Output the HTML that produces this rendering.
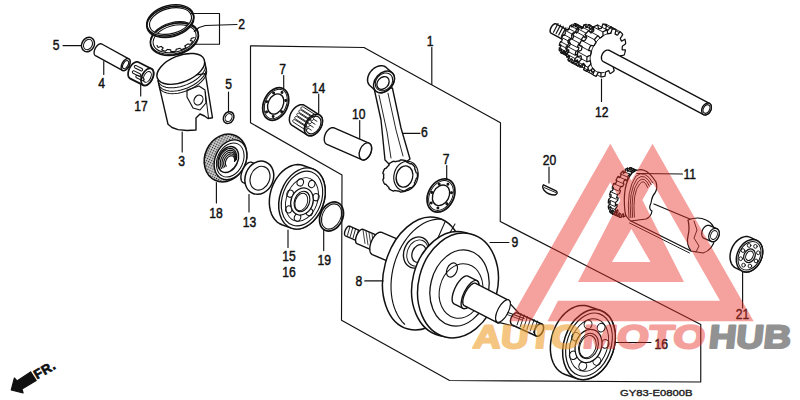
<!DOCTYPE html>
<html><head><meta charset="utf-8"><style>
html,body{margin:0;padding:0;background:#fff;}
svg{display:block;}
text{font-family:"Liberation Sans",sans-serif;}
</style></head><body>
<svg width="800" height="400" viewBox="0 0 800 400">
<rect width="800" height="400" fill="#fff"/>
<g stroke="#111" stroke-width="1.1" fill="none" stroke-linejoin="round" stroke-linecap="round">
<polygon points="250.5,45.75 364,47.5 500.5,122.75 500.25,221.5 700.75,324.5 700.75,382 449.6,380.5 341.5,320.25 342,175 250.5,122.75" fill="none" stroke-width="1.15"/>
<line x1="431.8" y1="47.5" x2="431.8" y2="84.5" stroke-width="1.15"/>
<text transform="translate(426.8 46) scale(0.88 1)" x="0" y="0" font-size="13.8" fill="#111" stroke="#111" stroke-width="0.45">1</text>
<ellipse cx="174.4" cy="39.2" rx="24.5" ry="15.5" fill="#fff" stroke-width="1.72" transform="rotate(-15 174.4 39.2)"/>
<ellipse cx="174.4" cy="38" rx="24.5" ry="15.5" fill="none" stroke-width="1.15" transform="rotate(-15 174.4 38)"/>
<ellipse cx="174.6" cy="38.8" rx="22" ry="13.2" fill="none" stroke-width="1.03" transform="rotate(-15 174.6 38.8)"/>
<polyline points="194.21,37.53 193.83,37.65 193.44,37.76 193.06,37.88 192.67,37.99 192.28,38.1 191.9,38.2 191.51,38.3 191.31,38.39 191.29,38.46 191.27,38.53 191.25,38.6 191.23,38.67 191.21,38.74 191.19,38.81 191.17,38.89 191.14,38.96 191.12,39.03 191.09,39.1 191.07,39.17 191.04,39.24 191.01,39.31 190.99,39.39 190.96,39.46 190.93,39.53 190.9,39.6 190.86,39.67 190.83,39.74 190.8,39.82 190.77,39.89 190.73,39.96 190.7,40.03 190.66,40.1 190.63,40.17 190.59,40.24 190.55,40.32 190.51,40.39 190.47,40.46 190.43,40.53 190.39,40.6 190.35,40.67 190.84,40.79 191.48,40.92 192.12,41.06 192.75,41.21 192.92,41.32 192.86,41.4 192.81,41.49 192.75,41.57 192.69,41.65 192.64,41.74 192.58,41.82 192.52,41.9 192.46,41.99 192.4,42.07 192.33,42.15 192.27,42.24 192.21,42.32 192.14,42.4 192.08,42.49 192.01,42.57 191.94,42.65 191.88,42.73 191.81,42.81 191.74,42.9 191.67,42.98 191.6,43.06 191.53,43.14 191.45,43.22 191.38,43.3 191.31,43.38 191.23,43.47 191.15,43.55 191.08,43.63 191,43.71 190.92,43.79 190.84,43.87 190.77,43.94 190.69,44.02 190.6,44.1 190.52,44.18 190.44,44.26 190.11,44.26 189.73,44.24 189.37,44.22 189,44.19 188.64,44.16 188.28,44.13 187.92,44.09 187.56,44.05 187.4,44.08 187.32,44.15 187.25,44.21 187.17,44.27 187.1,44.34 187.02,44.4 186.94,44.46 186.86,44.53 186.78,44.59 186.7,44.65 186.62,44.71 186.54,44.77 186.46,44.83 186.38,44.9 186.3,44.96 186.21,45.02 186.13,45.08 186.05,45.14 185.96,45.2 185.88,45.26 185.79,45.31 185.71,45.37 185.62,45.43 185.53,45.49 185.45,45.55 185.36,45.61 185.27,45.66 185.18,45.72 185.09,45.78 185,45.83 184.91,45.89 184.82,45.94 184.73,46 185.04,46.35 185.37,46.71 185.68,47.08 185.99,47.46 185.94,47.56 185.82,47.63 185.71,47.69 185.6,47.75 185.49,47.82 185.37,47.88 185.26,47.94 185.14,48 185.03,48.06 184.91,48.12 184.8,48.18 184.68,48.24 184.56,48.3 184.45,48.36 184.33,48.42 184.21,48.48 184.09,48.53 183.97,48.59 183.85,48.65 183.73,48.7 183.61,48.76 183.49,48.81 183.37,48.87 183.25,48.92 183.13,48.98 183.01,49.03 182.88,49.08 182.76,49.14 182.64,49.19 182.51,49.24 182.39,49.29 182.27,49.34 182.14,49.39 182.02,49.44 181.89,49.49 181.76,49.54 181.63,49.58 181.39,49.43 181.15,49.27 180.92,49.12 180.69,48.96 180.46,48.8 180.24,48.64 180.03,48.48 179.82,48.31 179.69,48.32 179.59,48.35 179.48,48.39 179.37,48.43 179.26,48.46 179.15,48.5 179.04,48.53 178.93,48.56 178.82,48.6 178.72,48.63 178.61,48.66 178.5,48.69 178.39,48.72 178.28,48.76 178.17,48.79 178.06,48.82 177.94,48.85 177.83,48.87 177.72,48.9 177.61,48.93 177.5,48.96 177.39,48.99 177.28,49.01 177.17,49.04 177.06,49.07 176.95,49.09 176.83,49.12 176.72,49.14 176.61,49.16 176.5,49.19 176.39,49.21 176.28,49.23 176.17,49.32 176.08,49.8 175.99,50.27 175.88,50.75 175.76,51.21 175.63,51.24 175.49,51.26 175.36,51.28 175.23,51.31 175.09,51.33 174.96,51.35 174.83,51.37 174.69,51.39 174.56,51.41 174.43,51.42 174.3,51.44 174.16,51.46 174.03,51.48 173.9,51.49 173.76,51.51 173.63,51.52 173.5,51.54 173.37,51.55 173.24,51.56 173.1,51.58 172.97,51.59 172.84,51.6 172.71,51.61 172.58,51.62 172.44,51.63 172.31,51.64 172.18,51.65 172.05,51.65 171.92,51.66 171.79,51.67 171.66,51.67 171.53,51.68 171.4,51.68 171.27,51.69 171.14,51.69 171.01,51.69 170.9,51.64 170.87,51.41 170.83,51.17 170.81,50.93 170.79,50.69 170.78,50.45 170.77,50.21 170.76,49.97 170.76,49.74 170.65,49.74 170.54,49.74 170.44,49.74 170.33,49.73 170.23,49.73 170.12,49.72 170.02,49.72 169.91,49.71 169.81,49.7 169.7,49.7 169.6,49.69 169.49,49.68 169.39,49.67 169.29,49.66 169.18,49.65 169.08,49.64 168.98,49.63 168.88,49.62 168.78,49.61 168.67,49.6 168.57,49.59 168.47,49.58 168.37,49.56 168.27,49.55 168.17,49.53 168.07,49.52 167.97,49.5 167.88,49.49 167.78,49.47 167.68,49.45 167.58,49.44 167.49,49.42 167.27,49.55 166.79,49.99 166.3,50.43 165.8,50.86 165.39,51.19 165.28,51.17 165.16,51.14 165.05,51.12 164.94,51.09 164.83,51.07 164.72,51.04 164.61,51.01 164.5,50.98 164.39,50.95 164.29,50.92 164.18,50.89 164.07,50.86 163.97,50.83 163.86,50.8 163.75,50.77 163.65,50.73 163.55,50.7 163.44,50.67 163.34,50.63 163.24,50.6 163.14,50.56 163.03,50.52 162.93,50.49 162.83,50.45 162.74,50.41 162.64,50.37 162.54,50.34 162.44,50.3 162.34,50.26 162.25,50.22 162.15,50.17 162.06,50.13 161.96,50.09 161.87,50.05 161.78,50.01 161.69,49.96 161.71,49.83 161.89,49.59 162.08,49.34 162.27,49.1 162.47,48.85 162.67,48.61 162.87,48.37 163.08,48.13 163.23,47.94 163.15,47.9 163.08,47.86 163.01,47.82 162.94,47.77 162.87,47.73 162.81,47.69 162.74,47.65 162.67,47.6 162.6,47.56 162.54,47.51 162.47,47.47 162.41,47.42 162.34,47.38 162.28,47.33 162.22,47.29 162.15,47.24 162.09,47.19 162.03,47.14 161.97,47.1 161.91,47.05 161.85,47 161.8,46.95 161.74,46.9 161.68,46.85 161.63,46.8 161.57,46.75 161.51,46.7 161.46,46.65 161.41,46.6 161.35,46.55 161.3,46.49 161.25,46.44 160.87,46.55 160.15,46.81 159.42,47.07 158.7,47.32 158.24,47.45 158.19,47.38 158.13,47.32 158.08,47.25 158.02,47.18 157.97,47.12 157.92,47.05 157.87,46.98 157.82,46.92 157.77,46.85 157.72,46.78 157.67,46.71 157.62,46.64 157.58,46.57 157.53,46.5 157.49,46.43 157.45,46.36 157.4,46.29 157.36,46.22 157.32,46.15 157.28,46.08 157.24,46.01 157.2,45.94 157.17,45.86 157.13,45.79 157.1,45.72 157.06,45.64 157.03,45.57 157,45.5" fill="none" stroke-width="1.15"/>
<path d="M194.1,14.8 L194.4,16.8 L194.3,18.9 L193.8,21.0 L192.9,23.1 L191.6,25.2 L189.9,27.2 L187.9,29.1 L185.6,30.9 L183.1,32.5 L180.3,33.9 L177.4,35.1 L174.3,36.1 L171.2,36.8 L168.0,37.2 L164.9,37.4 L161.9,37.3 L159.0,36.9 L156.3,36.2 L153.9,35.3 L151.7,34.2 L149.9,32.8 L148.4,31.2 L147.3,29.5 L146.5,27.6 L146.2,25.6 L146.3,23.5 L146.8,21.4 L147.7,19.3 L149.0,17.2 L150.7,15.2 L152.7,13.3 L155.0,11.5 L157.5,9.9 L160.3,8.5 L163.2,7.3 L166.3,6.3 L169.4,5.6 L172.6,5.2 L175.7,5.0 L178.7,5.1 L181.6,5.5 L184.3,6.2 L186.7,7.1 L188.9,8.2 L190.7,9.6 L192.2,11.2 L193.3,12.9 L194.1,14.8Z M191.0,15.5 L191.2,17.1 L191.1,18.8 L190.6,20.5 L189.8,22.2 L188.7,23.9 L187.2,25.5 L185.5,27.1 L183.5,28.5 L181.3,29.9 L178.9,31.1 L176.3,32.1 L173.7,32.9 L171.0,33.5 L168.3,33.9 L165.6,34.1 L163.0,34.0 L160.6,33.8 L158.3,33.3 L156.2,32.6 L154.4,31.7 L152.8,30.6 L151.5,29.4 L150.6,28.0 L150.0,26.5 L149.8,24.9 L149.9,23.2 L150.4,21.5 L151.2,19.8 L152.3,18.1 L153.8,16.5 L155.5,14.9 L157.5,13.5 L159.7,12.1 L162.1,10.9 L164.7,9.9 L167.3,9.1 L170.0,8.5 L172.7,8.1 L175.4,7.9 L178.0,8.0 L180.4,8.2 L182.7,8.7 L184.8,9.4 L186.6,10.3 L188.2,11.4 L189.5,12.6 L190.4,14.0 L191.0,15.5Z" fill="#fff" fill-rule="evenodd" stroke="none"/>
<ellipse cx="170.3" cy="21.8" rx="24" ry="14.8" fill="none" stroke-width="1.72" transform="rotate(-15 170.3 21.8)"/>
<ellipse cx="170.3" cy="20.3" rx="24" ry="14.8" fill="none" stroke-width="1.38" transform="rotate(-15 170.3 20.3)"/>
<ellipse cx="170.5" cy="21" rx="21.5" ry="12.6" fill="none" stroke-width="1.15" transform="rotate(-15 170.5 21)"/>
<polyline points="191.25,13.5 219.5,13.5 219.5,44.25 195,44.25" fill="none" stroke-width="1.15"/>
<polyline points="194.25,31.5 199,27.5 205.5,25.5 237,24.5" fill="none" stroke-width="1.15"/>
<text transform="translate(238.3 28.5) scale(0.88 1)" x="0" y="0" font-size="13.8" fill="#111" stroke="#111" stroke-width="0.45">2</text>
<ellipse cx="88" cy="44.5" rx="6.2" ry="7.6" fill="none" stroke-width="1.49" transform="rotate(28 88 44.5)"/>
<ellipse cx="88" cy="44.5" rx="4.2" ry="5.5" fill="none" stroke-width="1.03" transform="rotate(28 88 44.5)"/>
<line x1="63" y1="45.6" x2="81.5" y2="45.6" stroke-width="1.15"/>
<text transform="translate(52.8 49.8) scale(0.88 1)" x="0" y="0" font-size="13.8" fill="#111" stroke="#111" stroke-width="0.45">5</text>
<polygon points="95.43,55.59 95.04,55.31 94.71,54.94 94.45,54.48 94.26,53.94 94.15,53.33 94.11,52.66 94.14,51.94 94.26,51.18 94.45,50.4 94.7,49.61 95.03,48.83 95.42,48.06 95.86,47.31 96.35,46.62 96.87,45.97 97.43,45.4 98.01,44.89 98.59,44.47 99.18,44.15 99.76,43.92 100.31,43.79 100.84,43.76 101.33,43.83 101.77,44.01 128.77,58.81 129.16,59.09 129.49,59.46 129.75,59.92 129.94,60.46 130.05,61.07 130.09,61.74 130.06,62.46 129.94,63.22 129.75,64 129.5,64.79 129.17,65.57 128.78,66.34 128.34,67.09 127.85,67.78 127.33,68.43 126.77,69 126.19,69.51 125.61,69.93 125.02,70.25 124.44,70.48 123.89,70.61 123.36,70.64 122.87,70.57 122.43,70.39" fill="#fff" stroke-width="1.38"/>
<ellipse cx="125.6" cy="64.6" rx="3.63" ry="6.6" fill="#fff" stroke-width="1.38" transform="rotate(28.73 125.6 64.6)"/>
<ellipse cx="125.6" cy="64.6" rx="2.4" ry="4.4" fill="none" stroke-width="1.15" transform="rotate(28.7 125.6 64.6)"/>
<line x1="103.75" y1="61.5" x2="103.75" y2="74.5" stroke-width="1.15"/>
<text transform="translate(98.3 87.75) scale(0.88 1)" x="0" y="0" font-size="13.8" fill="#111" stroke="#111" stroke-width="0.45">4</text>
<polygon points="130.26,78.62 129.67,78.23 129.17,77.71 128.75,77.07 128.43,76.31 128.21,75.46 128.1,74.51 128.1,73.5 128.2,72.43 128.41,71.33 128.73,70.21 129.14,69.09 129.63,68 130.22,66.95 130.87,65.95 131.58,65.04 132.34,64.21 133.14,63.49 133.96,62.89 134.78,62.42 135.6,62.08 136.4,61.89 137.17,61.84 137.88,61.94 138.54,62.18 151.44,68.68 152.03,69.07 152.53,69.59 152.95,70.23 153.27,70.99 153.49,71.84 153.6,72.79 153.6,73.8 153.5,74.87 153.29,75.97 152.97,77.09 152.56,78.21 152.07,79.3 151.48,80.35 150.83,81.35 150.12,82.26 149.36,83.09 148.56,83.81 147.74,84.41 146.92,84.88 146.1,85.22 145.3,85.41 144.53,85.46 143.82,85.36 143.16,85.12" fill="#fff" stroke-width="1.72"/>
<ellipse cx="147.3" cy="76.9" rx="5.34" ry="9.2" fill="#fff" stroke-width="1.72" transform="rotate(26.74 147.3 76.9)"/>
<ellipse cx="147.3" cy="76.9" rx="3.4" ry="5.8" fill="none" stroke-width="1.03" transform="rotate(26.7 147.3 76.9)"/>
<polygon points="141.94,68.48 142.34,68.79 142.59,69.23 142.66,69.73 142.52,70.22 142.21,70.62 141.77,70.87 141.26,70.93 140.77,70.8 135.06,67.92 134.66,67.61 134.41,67.17 134.34,66.67 134.48,66.18 134.79,65.78 135.23,65.53 135.74,65.47 136.23,65.6" fill="none" stroke-width="1.03"/>
<polygon points="139.94,73.78 140.34,74.09 140.59,74.53 140.66,75.03 140.52,75.52 140.21,75.92 139.77,76.17 139.26,76.23 138.77,76.1 133.06,73.22 132.66,72.91 132.41,72.47 132.34,71.97 132.48,71.48 132.79,71.08 133.23,70.83 133.74,70.77 134.23,70.9" fill="none" stroke-width="1.03"/>
<polygon points="143.44,78.28 143.84,78.59 144.09,79.03 144.16,79.53 144.02,80.02 143.71,80.42 143.27,80.67 142.76,80.73 142.27,80.6 136.56,77.72 136.16,77.41 135.91,76.97 135.84,76.47 135.98,75.98 136.29,75.58 136.73,75.33 137.24,75.27 137.73,75.4" fill="none" stroke-width="1.03"/>
<line x1="140.7" y1="84.5" x2="140.7" y2="96" stroke-width="1.15"/>
<text transform="translate(134.3 111) scale(0.88 1)" x="0" y="0" font-size="13.8" fill="#111" stroke="#111" stroke-width="0.45">17</text>
<polygon points="157.9,80.4 168,124.25 172,127.5 178,129.6 187,130.5 196,130 196,118 200,114 204.5,116 208,118.5 212.5,117.8 205.3,73.6" fill="#fff" stroke-width="1.38"/>
<ellipse cx="180.8" cy="68.9" rx="25.2" ry="13.2" fill="#fff" stroke-width="1.49" transform="rotate(-22 180.8 68.9)"/>
<polyline points="204.98,62.54 205.54,64.21 205.68,66.04 205.39,67.97 204.67,69.99 203.55,72.05 202.04,74.11 200.17,76.15 197.97,78.11 195.48,79.98 192.75,81.71 189.82,83.27 186.74,84.64 183.58,85.79 180.39,86.7 177.22,87.35 174.14,87.74 171.19,87.86 168.43,87.69 165.91,87.26 163.67,86.55 161.76,85.6 160.21,84.41 159.04,83 158.28,81.41" fill="none" stroke-width="1.03"/>
<polyline points="205.58,65.84 206.14,67.51 206.28,69.34 205.99,71.27 205.27,73.29 204.15,75.35 202.64,77.41 200.77,79.45 198.57,81.41 196.08,83.28 193.35,85.01 190.42,86.57 187.34,87.94 184.18,89.09 180.99,90 177.82,90.65 174.74,91.04 171.79,91.16 169.03,90.99 166.51,90.56 164.27,89.85 162.36,88.9 160.81,87.71 159.64,86.3 158.88,84.71" fill="none" stroke-width="1.03"/>
<polyline points="205.98,68.34 206.54,70.01 206.68,71.84 206.39,73.77 205.67,75.79 204.55,77.85 203.04,79.91 201.17,81.95 198.97,83.91 196.48,85.78 193.75,87.51 190.82,89.07 187.74,90.44 184.58,91.59 181.39,92.5 178.22,93.15 175.14,93.54 172.19,93.66 169.43,93.49 166.91,93.06 164.67,92.35 162.76,91.4 161.21,90.21 160.04,88.8 159.28,87.21" fill="none" stroke-width="1.03"/>
<polyline points="187,90 199,86 205,90 206,103 200,110 193,108 187,97 187,90" fill="none" stroke-width="1.15"/>
<ellipse cx="198.5" cy="100" rx="4.2" ry="5.2" fill="none" stroke-width="1.15" transform="rotate(30 198.5 100)"/>
<polyline points="205.3,92 208.5,118" fill="none" stroke-width="1.03"/>
<line x1="182.2" y1="132" x2="182.2" y2="152" stroke-width="1.15"/>
<text transform="translate(178.3 166) scale(0.88 1)" x="0" y="0" font-size="13.8" fill="#111" stroke="#111" stroke-width="0.45">3</text>
<ellipse cx="228.6" cy="117.6" rx="5" ry="6.2" fill="none" stroke-width="1.49" transform="rotate(30 228.6 117.6)"/>
<ellipse cx="228.6" cy="117.6" rx="3.2" ry="4.2" fill="none" stroke-width="1.03" transform="rotate(30 228.6 117.6)"/>
<line x1="228.5" y1="92" x2="228.5" y2="112" stroke-width="1.15"/>
<text transform="translate(225.3 89) scale(0.88 1)" x="0" y="0" font-size="13.8" fill="#111" stroke="#111" stroke-width="0.45">5</text>
<defs><pattern id="stip" width="2.4" height="2.4" patternUnits="userSpaceOnUse" stroke="none"><rect width="2.4" height="2.4" fill="#b4b4b4"/><rect width="1" height="1" fill="#222"/><rect x="1.2" y="1.2" width="1" height="1" fill="#eee"/></pattern></defs>
<ellipse cx="225.5" cy="158" rx="20.5" ry="24.6" fill="url(#stip)" stroke-width="1.61" transform="rotate(25 225.5 158)"/>
<ellipse cx="230.5" cy="159.8" rx="15.2" ry="20.8" fill="#fff" stroke-width="1.38" transform="rotate(25 230.5 159.8)"/>
<ellipse cx="230.2" cy="160" rx="12.8" ry="17.8" fill="none" stroke-width="1.03" transform="rotate(25 230.2 160)"/>
<ellipse cx="228.2" cy="159.6" rx="9.6" ry="13.6" fill="#fff" stroke-width="1.49" transform="rotate(25 228.2 159.6)"/>
<polyline points="220.21,169.2 219.24,167.42 218.68,165.27 218.57,162.86 218.9,160.3 219.66,157.73 220.82,155.27 222.31,153.05 224.06,151.17 225.99,149.73 228,148.8 229.99,148.42 231.86,148.62 233.52,149.37 234.88,150.66 235.89,152.41 236.48,154.53 236.64,156.93 236.35,159.47" fill="none" stroke-width="1.15"/>
<polyline points="221.72,168.47 220.87,166.91 220.37,165.02 220.27,162.9 220.56,160.66 221.23,158.41 222.24,156.25 223.55,154.3 225.09,152.66 226.78,151.39 228.55,150.57 230.29,150.24 231.93,150.41 233.39,151.08 234.59,152.21 235.47,153.74 236,155.61 236.13,157.71 235.88,159.94" fill="none" stroke-width="1.15"/>
<polyline points="223.22,167.74 222.49,166.39 222.07,164.77 221.98,162.95 222.22,161.02 222.8,159.08 223.67,157.23 224.8,155.55 226.12,154.14 227.58,153.05 229.09,152.35 230.6,152.07 232.01,152.21 233.26,152.79 234.3,153.76 235.06,155.08 235.51,156.68 235.63,158.49 235.41,160.41" fill="none" stroke-width="1.15"/>
<polyline points="224.73,167.01 224.11,165.88 223.76,164.52 223.68,162.99 223.89,161.38 224.37,159.76 225.1,158.21 226.04,156.8 227.15,155.62 228.37,154.71 229.64,154.12 230.9,153.89 232.09,154.01 233.14,154.5 234,155.31 234.64,156.41 235.02,157.76 235.12,159.27 234.94,160.88" fill="none" stroke-width="1.15"/>
<polyline points="226.24,166.27 225.74,165.36 225.45,164.27 225.38,163.04 225.55,161.74 225.94,160.43 226.52,159.18 227.28,158.06 228.18,157.1 229.16,156.37 230.19,155.9 231.2,155.71 232.16,155.81 233.01,156.2 233.71,156.86 234.23,157.75 234.54,158.83 234.62,160.05 234.47,161.35" fill="none" stroke-width="1.15"/>
<line x1="216.4" y1="182.5" x2="216.4" y2="203" stroke-width="1.15"/>
<text transform="translate(209.3 217.7) scale(0.88 1)" x="0" y="0" font-size="13.8" fill="#111" stroke="#111" stroke-width="0.45">18</text>
<polygon points="243.23,182.64 242.61,182.27 242.06,181.74 241.62,181.05 241.27,180.21 241.03,179.24 240.9,178.16 240.88,176.98 240.98,175.72 241.18,174.41 241.5,173.06 241.92,171.71 242.43,170.37 243.03,169.06 243.71,167.81 244.45,166.65 245.24,165.58 246.08,164.64 246.93,163.82 247.8,163.16 248.66,162.65 249.5,162.32 250.31,162.16 251.07,162.17 251.77,162.36 261.27,166.36 261.89,166.73 262.44,167.26 262.88,167.95 263.23,168.79 263.47,169.76 263.6,170.84 263.62,172.02 263.52,173.28 263.32,174.59 263,175.94 262.58,177.29 262.07,178.63 261.47,179.94 260.79,181.19 260.05,182.35 259.26,183.42 258.42,184.36 257.57,185.18 256.7,185.84 255.84,186.35 255,186.68 254.19,186.84 253.43,186.83 252.73,186.64" fill="#fff" stroke-width="1.38"/>
<ellipse cx="257" cy="176.5" rx="5.5" ry="11" fill="#fff" stroke-width="1.38" transform="rotate(22.83 257 176.5)"/>
<ellipse cx="259.3" cy="177.7" rx="14" ry="17" fill="#fff" stroke-width="1.49" transform="rotate(22 259.3 177.7)"/>
<ellipse cx="260" cy="178.2" rx="9.6" ry="12.2" fill="none" stroke-width="1.15" transform="rotate(22 260 178.2)"/>
<line x1="249" y1="194.5" x2="249" y2="212" stroke-width="1.15"/>
<text transform="translate(242.8 227) scale(0.88 1)" x="0" y="0" font-size="13.8" fill="#111" stroke="#111" stroke-width="0.45">13</text>
<polygon points="281.89,224.72 279.28,223.49 276.9,221.78 274.78,219.6 272.98,217.01 271.51,214.05 270.4,210.75 269.66,207.2 269.33,203.43 269.39,199.52 269.84,195.54 270.69,191.55 271.91,187.62 273.49,183.81 275.39,180.21 277.59,176.85 280.04,173.81 282.71,171.13 285.55,168.86 288.51,167.04 291.53,165.71 294.58,164.87 297.59,164.55 300.52,164.75 303.31,165.48 312.71,168.88 315.32,170.11 317.7,171.82 319.82,174 321.62,176.59 323.09,179.55 324.2,182.85 324.94,186.4 325.27,190.17 325.21,194.08 324.76,198.06 323.91,202.05 322.69,205.98 321.11,209.79 319.21,213.39 317.01,216.75 314.56,219.79 311.89,222.47 309.05,224.74 306.09,226.56 303.07,227.89 300.02,228.73 297.01,229.05 294.08,228.85 291.29,228.12" fill="#fff" stroke-width="1.49"/>
<ellipse cx="302" cy="198.5" rx="22" ry="31.5" fill="#fff" stroke-width="1.49" transform="rotate(19.89 302 198.5)"/>
<ellipse cx="302" cy="198.5" rx="19.5" ry="28.2" fill="none" stroke-width="1.15" transform="rotate(20 302 198.5)"/>
<ellipse cx="302" cy="199.5" rx="15.5" ry="22.5" fill="none" stroke-width="0.92" transform="rotate(20 302 199.5)"/>
<ellipse cx="309.52" cy="212.19" rx="3.2" ry="3.6" fill="none" stroke-width="1.03" transform="rotate(20 309.52 212.19)"/>
<ellipse cx="297.53" cy="217.55" rx="3.2" ry="3.6" fill="none" stroke-width="1.03" transform="rotate(20 297.53 217.55)"/>
<ellipse cx="288.9" cy="209.33" rx="3.2" ry="3.6" fill="none" stroke-width="1.03" transform="rotate(20 288.9 209.33)"/>
<ellipse cx="290.12" cy="193.72" rx="3.2" ry="3.6" fill="none" stroke-width="1.03" transform="rotate(20 290.12 193.72)"/>
<ellipse cx="300.28" cy="182.46" rx="3.2" ry="3.6" fill="none" stroke-width="1.03" transform="rotate(20 300.28 182.46)"/>
<ellipse cx="311.74" cy="184.01" rx="3.2" ry="3.6" fill="none" stroke-width="1.03" transform="rotate(20 311.74 184.01)"/>
<ellipse cx="315.87" cy="197.22" rx="3.2" ry="3.6" fill="none" stroke-width="1.03" transform="rotate(20 315.87 197.22)"/>
<ellipse cx="302" cy="201.5" rx="11" ry="13.8" fill="#fff" stroke-width="1.26" transform="rotate(20 302 201.5)"/>
<ellipse cx="302" cy="201.5" rx="7.5" ry="10.5" fill="none" stroke-width="1.15" transform="rotate(20 302 201.5)"/>
<ellipse cx="301.3" cy="202" rx="6" ry="9" fill="none" stroke-width="0.92" transform="rotate(20 301.3 202)"/>
<line x1="288" y1="230" x2="288" y2="247.5" stroke-width="1.15"/>
<text transform="translate(282.2 260.5) scale(0.88 1)" x="0" y="0" font-size="13.8" fill="#111" stroke="#111" stroke-width="0.45">15</text>
<text transform="translate(282.2 276.5) scale(0.88 1)" x="0" y="0" font-size="13.8" fill="#111" stroke="#111" stroke-width="0.45">16</text>
<ellipse cx="331.5" cy="216.5" rx="11.2" ry="15.2" fill="none" stroke-width="1.72" transform="rotate(25 331.5 216.5)"/>
<ellipse cx="331.5" cy="216.5" rx="9.2" ry="13.2" fill="none" stroke-width="1.03" transform="rotate(25 331.5 216.5)"/>
<line x1="323.7" y1="230" x2="323.7" y2="250.6" stroke-width="1.15"/>
<text transform="translate(317.6 265) scale(0.88 1)" x="0" y="0" font-size="13.8" fill="#111" stroke="#111" stroke-width="0.45">19</text>
<ellipse cx="275.7" cy="104" rx="12" ry="17" fill="#fff" stroke-width="1.72" transform="rotate(25 275.7 104)"/>
<ellipse cx="275.7" cy="104" rx="10.5" ry="15.5" fill="none" stroke-width="0.92" transform="rotate(25 275.7 104)"/>
<ellipse cx="275.7" cy="104" rx="7.5" ry="10.6" fill="none" stroke-width="1.38" transform="rotate(25 275.7 104)"/>
<ellipse cx="281.63" cy="111.75" rx="0.9" ry="0.9" fill="#111" stroke-width="1.15"/>
<ellipse cx="273.14" cy="116.58" rx="0.9" ry="0.9" fill="#111" stroke-width="1.15"/>
<ellipse cx="266.55" cy="112.09" rx="0.9" ry="0.9" fill="#111" stroke-width="1.15"/>
<ellipse cx="266.74" cy="101.6" rx="0.9" ry="0.9" fill="#111" stroke-width="1.15"/>
<ellipse cx="273.58" cy="92.89" rx="0.9" ry="0.9" fill="#111" stroke-width="1.15"/>
<ellipse cx="281.98" cy="92.42" rx="0.9" ry="0.9" fill="#111" stroke-width="1.15"/>
<ellipse cx="285.73" cy="100.53" rx="0.9" ry="0.9" fill="#111" stroke-width="1.15"/>
<line x1="283.7" y1="75.5" x2="283.7" y2="88.8" stroke-width="1.15"/>
<text transform="translate(279.3 74) scale(0.88 1)" x="0" y="0" font-size="13.8" fill="#111" stroke="#111" stroke-width="0.45">7</text>
<polygon points="292.16,125.45 291.35,124.82 290.67,124.03 290.13,123.09 289.72,122.02 289.47,120.84 289.37,119.57 289.43,118.24 289.64,116.85 290.01,115.44 290.52,114.03 291.16,112.65 291.93,111.31 292.82,110.05 293.8,108.88 294.86,107.82 295.98,106.9 297.15,106.12 298.34,105.5 299.54,105.06 300.71,104.79 301.85,104.71 302.93,104.81 303.93,105.09 304.84,105.55 319.74,115.05 320.55,115.68 321.23,116.47 321.77,117.41 322.18,118.48 322.43,119.66 322.53,120.93 322.47,122.26 322.26,123.65 321.89,125.06 321.38,126.47 320.74,127.85 319.97,129.19 319.08,130.45 318.1,131.62 317.04,132.68 315.92,133.6 314.75,134.38 313.56,135 312.36,135.44 311.19,135.71 310.05,135.79 308.97,135.69 307.97,135.41 307.06,134.95" fill="#fff" stroke-width="1.49"/>
<ellipse cx="313.4" cy="125" rx="7.79" ry="11.8" fill="#fff" stroke-width="1.49" transform="rotate(32.52 313.4 125)"/>
<polygon points="314.99,114.63 315.38,115.01 315.6,115.51 315.62,116.05 315.42,116.56 315.04,116.96 314.54,117.18 313.99,117.19 313.48,116.99 301.51,109.36 301.12,108.98 300.9,108.48 300.89,107.93 301.08,107.42 301.46,107.03 301.96,106.81 302.51,106.8 303.02,106.99" fill="none" stroke-width="0.92"/>
<polygon points="312.95,117.83 313.34,118.21 313.56,118.71 313.57,119.26 313.37,119.77 313,120.16 312.5,120.38 311.95,120.39 311.44,120.19 299.47,112.56 299.07,112.18 298.85,111.68 298.84,111.14 299.04,110.63 299.42,110.23 299.92,110.01 300.46,110 300.97,110.2" fill="none" stroke-width="0.92"/>
<polygon points="310.9,121.04 311.3,121.41 311.52,121.91 311.53,122.46 311.33,122.97 310.95,123.36 310.45,123.58 309.91,123.6 309.4,123.4 297.43,115.76 297.03,115.39 296.81,114.89 296.8,114.34 297,113.83 297.38,113.44 297.88,113.22 298.42,113.2 298.93,113.4" fill="none" stroke-width="0.92"/>
<polygon points="308.86,124.24 309.26,124.62 309.48,125.12 309.49,125.66 309.29,126.17 308.91,126.57 308.41,126.79 307.86,126.8 307.36,126.6 295.38,118.97 294.99,118.59 294.77,118.09 294.76,117.54 294.95,117.03 295.33,116.64 295.83,116.42 296.38,116.41 296.89,116.61" fill="none" stroke-width="0.92"/>
<polygon points="306.82,127.44 307.21,127.82 307.43,128.32 307.44,128.87 307.25,129.38 306.87,129.77 306.37,129.99 305.82,130 305.31,129.81 293.34,122.17 292.94,121.79 292.73,121.29 292.71,120.75 292.91,120.24 293.29,119.84 293.79,119.62 294.34,119.61 294.84,119.81" fill="none" stroke-width="0.92"/>
<ellipse cx="313.4" cy="125" rx="6.6" ry="9.6" fill="none" stroke-width="1.15" transform="rotate(32.52 313.4 125)"/>
<line x1="313.56" y1="119.17" x2="316.93" y2="121.32" stroke-width="0.92"/>
<line x1="311.68" y1="122.12" x2="315.05" y2="124.27" stroke-width="0.92"/>
<line x1="309.8" y1="125.07" x2="313.17" y2="127.22" stroke-width="0.92"/>
<line x1="307.91" y1="128.02" x2="311.29" y2="130.18" stroke-width="0.92"/>
<line x1="318.7" y1="94" x2="318.7" y2="113.5" stroke-width="1.15"/>
<text transform="translate(311.8 92.5) scale(0.88 1)" x="0" y="0" font-size="13.8" fill="#111" stroke="#111" stroke-width="0.45">14</text>
<polygon points="326.91,144.45 326.27,144.09 325.7,143.59 325.22,142.97 324.83,142.23 324.53,141.39 324.34,140.46 324.25,139.46 324.27,138.4 324.4,137.3 324.63,136.18 324.96,135.07 325.38,133.97 325.9,132.91 326.49,131.91 327.15,130.98 327.87,130.14 328.63,129.41 329.42,128.79 330.24,128.3 331.05,127.94 331.86,127.72 332.65,127.65 333.4,127.73 334.09,127.95 368.99,143.15 369.63,143.51 370.2,144.01 370.68,144.63 371.07,145.37 371.37,146.21 371.56,147.14 371.65,148.14 371.63,149.2 371.5,150.3 371.27,151.42 370.94,152.53 370.52,153.63 370,154.69 369.41,155.69 368.75,156.62 368.03,157.46 367.27,158.19 366.48,158.81 365.66,159.3 364.85,159.66 364.04,159.88 363.25,159.95 362.5,159.87 361.81,159.65" fill="#fff" stroke-width="1.38"/>
<ellipse cx="365.4" cy="151.4" rx="5.58" ry="9" fill="#fff" stroke-width="1.38" transform="rotate(23.53 365.4 151.4)"/>
<line x1="359.7" y1="120.6" x2="359.7" y2="138.5" stroke-width="1.15"/>
<text transform="translate(352 118.5) scale(0.88 1)" x="0" y="0" font-size="13.8" fill="#111" stroke="#111" stroke-width="0.45">10</text>
<polygon points="374,88 381,120 385,160 395,170 410,159 401,128 392.4,88" fill="#fff" stroke-width="1.38"/>
<polyline points="379,95 387,132 391,158" fill="none" stroke-width="0.92"/>
<polyline points="388,93.3 396,130 403,156" fill="none" stroke-width="0.92"/>
<polygon points="369.84,85.57 369.06,84.72 368.43,83.74 367.96,82.63 367.67,81.42 367.55,80.12 367.61,78.76 367.85,77.36 368.26,75.95 368.84,74.54 369.58,73.17 370.46,71.86 371.47,70.62 372.59,69.49 373.81,68.48 375.09,67.6 376.43,66.88 377.79,66.32 379.15,65.93 380.5,65.73 381.8,65.71 383.04,65.87 384.19,66.22 385.24,66.74 386.16,67.43 392.16,72.83 392.94,73.68 393.57,74.66 394.04,75.77 394.33,76.98 394.45,78.28 394.39,79.64 394.15,81.04 393.74,82.45 393.16,83.86 392.42,85.23 391.54,86.54 390.53,87.78 389.41,88.91 388.19,89.92 386.91,90.8 385.57,91.52 384.21,92.08 382.85,92.47 381.5,92.67 380.2,92.69 378.96,92.53 377.81,92.18 376.76,91.66 375.84,90.97" fill="#fff" stroke-width="1.49"/>
<ellipse cx="384" cy="81.9" rx="8.78" ry="12.2" fill="#fff" stroke-width="1.49" transform="rotate(41.99 384 81.9)"/>
<ellipse cx="384" cy="81.9" rx="7.8" ry="9.8" fill="none" stroke-width="1.03" transform="rotate(42 384 81.9)"/>
<ellipse cx="383" cy="83" rx="5.4" ry="7" fill="none" stroke-width="1.38" transform="rotate(42 383 83)"/>
<polyline points="417.23,172.96 417.28,173.21 417.31,173.46 417.35,173.71 417.37,173.96 417.4,174.21 417.42,174.46 417.43,174.71 417.45,174.96 417.45,175.21 417.46,175.46 417.46,175.72 417.45,175.97 417.44,176.22 417.43,176.47 417.41,176.72 417.38,176.98 417.36,177.23 417.32,177.48 417.29,177.73 417.25,177.98 416.97,178.2 416.69,178.41 416.41,178.62 416.13,178.81 415.97,179.03 415.9,179.26 415.84,179.49 415.77,179.72 415.7,179.95 415.62,180.18 415.54,180.41 415.45,180.63 415.37,180.86 415.27,181.08 415.18,181.3 415.08,181.52 414.97,181.74 414.87,181.96 414.76,182.18 414.64,182.4 414.52,182.61 414.4,182.82 414.59,183.19 414.87,183.61 414.91,183.92 414.76,184.14 414.62,184.36 414.47,184.57 414.31,184.78 414.15,184.99 413.99,185.2 413.82,185.41 413.65,185.61 413.48,185.81 413.31,186.01 413.13,186.2 412.94,186.4 412.76,186.59 412.57,186.78 412.38,186.96 412.18,187.14 411.98,187.32 411.78,187.5 411.58,187.68 411.29,187.76 410.93,187.76 410.57,187.76 410.22,187.75 409.89,187.75 409.68,187.9 409.47,188.04 409.26,188.19 409.05,188.32 408.83,188.46 408.61,188.59 408.39,188.72 408.17,188.85 407.94,188.97 407.72,189.09 407.49,189.2 407.26,189.32 407.03,189.43 406.79,189.53 406.56,189.64 406.32,189.74 406.08,189.83 405.9,190.06 405.82,190.55 405.7,191 405.44,191.09 405.18,191.17 404.92,191.25 404.65,191.33 404.39,191.4 404.12,191.47 403.86,191.54 403.59,191.6 403.32,191.65 403.05,191.71 402.78,191.76 402.51,191.8 402.24,191.84 401.96,191.88 401.69,191.92 401.42,191.95 401.14,191.97 400.87,192 400.6,192.01 400.32,192 400.05,191.8 399.78,191.59 399.52,191.37 399.27,191.16 399.01,191.08 398.76,191.07 398.5,191.06 398.24,191.04 397.99,191.02 397.73,191 397.48,190.97 397.22,190.94 396.97,190.9 396.72,190.87 396.46,190.82 396.21,190.78 395.96,190.73 395.71,190.67 395.47,190.62 395.22,190.56 394.97,190.49 394.73,190.43 394.34,190.72 393.93,191.06 393.62,191.11 393.36,191.02 393.11,190.93 392.86,190.84 392.61,190.74 392.36,190.64 392.12,190.53 391.87,190.43 391.63,190.31 391.39,190.2 391.16,190.08 390.92,189.96 390.69,189.83 390.46,189.7 390.23,189.57 390,189.43 389.78,189.29 389.56,189.15 389.34,189 389.12,188.85 389.01,188.59 388.95,188.26 388.91,187.94 388.87,187.62 388.8,187.34 388.61,187.18 388.43,187.02 388.25,186.85 388.07,186.69 387.89,186.52 387.72,186.35 387.55,186.17 387.39,186 387.22,185.82 387.06,185.64 386.9,185.46 386.75,185.27 386.6,185.08 386.45,184.89 386.31,184.7 386.17,184.5 386.03,184.31 385.72,184.21 385.18,184.24 384.73,184.2 384.59,183.98 384.47,183.76 384.34,183.54 384.23,183.31 384.11,183.09 384,182.86 383.89,182.63 383.79,182.4 383.69,182.17 383.59,181.94 383.5,181.7 383.41,181.47 383.33,181.23 383.25,180.99 383.17,180.75 383.1,180.51 383.04,180.27 382.97,180.02 382.92,179.78 382.91,179.52 383.1,179.23 383.28,178.95 383.48,178.67 383.67,178.4 383.69,178.16 383.67,177.92 383.64,177.69 383.63,177.45 383.61,177.21 383.6,176.98 383.59,176.74 383.59,176.5 383.59,176.27 383.6,176.03 383.61,175.79 383.62,175.56 383.64,175.32 383.66,175.08 383.68,174.85 383.71,174.61 383.75,174.38 383.79,174.14 383.36,173.84 382.95,173.54 382.9,173.27 382.95,173.02 383.01,172.78 383.08,172.53 383.15,172.29 383.22,172.04 383.3,171.8 383.38,171.55 383.47,171.31 383.56,171.07 383.65,170.83 383.75,170.59 383.85,170.36 383.96,170.12 384.07,169.89 384.18,169.66 384.3,169.43 384.42,169.2 384.55,168.97 384.68,168.74 384.97,168.6 385.31,168.48 385.65,168.37 385.99,168.27 386.26,168.14 386.4,167.94 386.55,167.74 386.7,167.55 386.85,167.35 387.01,167.16 387.17,166.97 387.33,166.78 387.49,166.59 387.66,166.41 387.83,166.23 388.01,166.05 388.18,165.87 388.36,165.7 388.55,165.52 388.73,165.36 388.92,165.19 389.11,165.02 389.14,164.69 389.04,164.2 389.05,163.82 389.26,163.66 389.48,163.5 389.7,163.34 389.92,163.19 390.15,163.04 390.38,162.89 390.61,162.75 390.84,162.61 391.07,162.47 391.31,162.33 391.55,162.2 391.79,162.08 392.03,161.95 392.28,161.83 392.52,161.72 392.77,161.6 393.02,161.49 393.28,161.39 393.53,161.29 393.81,161.25 394.15,161.36 394.48,161.47 394.8,161.59 395.12,161.72 395.38,161.66 395.63,161.59 395.88,161.52 396.13,161.46 396.38,161.4 396.63,161.34 396.88,161.29 397.13,161.24 397.39,161.19 397.64,161.15 397.9,161.11 398.15,161.07 398.41,161.04 398.67,161.01 398.92,160.99 399.18,160.96 399.44,160.95 399.7,160.89 399.95,160.44 400.23,160 400.5,159.95 400.77,159.95 401.05,159.96 401.32,159.97 401.59,159.98 401.87,160 402.14,160.02 402.41,160.05 402.68,160.08 402.95,160.11 403.22,160.15 403.49,160.19 403.76,160.23 404.03,160.28 404.29,160.33 404.56,160.39 404.82,160.45 405.09,160.51 405.35,160.58 405.61,160.65 405.8,160.91 405.97,161.19 406.13,161.48 406.29,161.77 406.48,161.96 406.71,162.05 406.95,162.14 407.18,162.24 407.41,162.34 407.64,162.44 407.87,162.55 408.09,162.65 408.31,162.77 408.54,162.88 408.75,163 408.97,163.12 409.19,163.25 409.4,163.38 409.61,163.51 409.82,163.64 410.02,163.78 410.22,163.92 410.62,163.83 411.13,163.64 411.51,163.61 411.71,163.78 411.91,163.94 412.11,164.11 412.31,164.28 412.5,164.45 412.69,164.63 412.88,164.81 413.06,164.99 413.24,165.18 413.42,165.36 413.59,165.55 413.76,165.75 413.93,165.94 414.09,166.14 414.25,166.34 414.41,166.54 414.56,166.75 414.71,166.95 414.86,167.16 414.91,167.43 414.84,167.75 414.77,168.07 414.69,168.39 414.6,168.71 414.72,168.91 414.83,169.12 414.94,169.34 415.04,169.55 415.14,169.76 415.24,169.98 415.33,170.2 415.42,170.42 415.51,170.64 415.59,170.86 415.67,171.09 415.75,171.31 415.82,171.54 415.88,171.76 415.95,171.99 416,172.22 416.06,172.45 416.21,172.66 416.72,172.8 417.23,172.96" fill="#fff" stroke-width="1.38"/>
<ellipse cx="406" cy="176" rx="12" ry="15" fill="none" stroke-width="1.15" transform="rotate(15 406 176)"/>
<ellipse cx="404.5" cy="176.5" rx="8.2" ry="10.8" fill="none" stroke-width="1.38" transform="rotate(15 404.5 176.5)"/>
<line x1="403" y1="133.3" x2="420" y2="133.3" stroke-width="1.15"/>
<text transform="translate(421 137) scale(0.88 1)" x="0" y="0" font-size="13.8" fill="#111" stroke="#111" stroke-width="0.45">6</text>
<ellipse cx="441" cy="195.5" rx="12.8" ry="17.5" fill="#fff" stroke-width="1.72" transform="rotate(28 441 195.5)"/>
<ellipse cx="441" cy="195.5" rx="11.2" ry="15.8" fill="none" stroke-width="0.92" transform="rotate(28 441 195.5)"/>
<ellipse cx="441" cy="195.3" rx="8" ry="10.8" fill="none" stroke-width="1.38" transform="rotate(28 441 195.3)"/>
<ellipse cx="446.85" cy="203.72" rx="0.9" ry="0.9" fill="#111" stroke-width="1.15"/>
<ellipse cx="437.9" cy="207.99" rx="0.9" ry="0.9" fill="#111" stroke-width="1.15"/>
<ellipse cx="431.25" cy="203" rx="0.9" ry="0.9" fill="#111" stroke-width="1.15"/>
<ellipse cx="431.83" cy="192.45" rx="0.9" ry="0.9" fill="#111" stroke-width="1.15"/>
<ellipse cx="439.21" cy="184.16" rx="0.9" ry="0.9" fill="#111" stroke-width="1.15"/>
<ellipse cx="447.91" cy="184.28" rx="0.9" ry="0.9" fill="#111" stroke-width="1.15"/>
<ellipse cx="451.49" cy="192.72" rx="0.9" ry="0.9" fill="#111" stroke-width="1.15"/>
<line x1="446.7" y1="165.5" x2="446.7" y2="179" stroke-width="1.15"/>
<text transform="translate(442.8 163.5) scale(0.88 1)" x="0" y="0" font-size="13.8" fill="#111" stroke="#111" stroke-width="0.45">7</text>
<polygon points="345.43,235.77 345.17,235.61 344.94,235.37 344.76,235.05 344.63,234.66 344.55,234.22 344.52,233.71 344.54,233.16 344.61,232.58 344.72,231.96 344.89,231.33 345.1,230.7 345.35,230.07 345.64,229.45 345.96,228.86 346.31,228.31 346.68,227.81 347.06,227.36 347.45,226.97 347.84,226.65 348.22,226.4 348.59,226.24 348.95,226.15 349.27,226.15 349.57,226.23 364.07,232.53 364.33,232.69 364.56,232.93 364.74,233.25 364.87,233.64 364.95,234.08 364.98,234.59 364.96,235.14 364.89,235.72 364.78,236.34 364.61,236.97 364.4,237.6 364.15,238.23 363.86,238.85 363.54,239.44 363.19,239.99 362.82,240.49 362.44,240.94 362.05,241.33 361.66,241.65 361.28,241.9 360.91,242.06 360.55,242.15 360.23,242.15 359.93,242.07" fill="#fff" stroke-width="1.38"/>
<ellipse cx="362" cy="237.3" rx="2.34" ry="5.2" fill="#fff" stroke-width="1.38" transform="rotate(23.48 362 237.3)"/>
<line x1="350" y1="226.3" x2="347.5" y2="235.3" stroke-width="0.92"/>
<line x1="352.8" y1="227.52" x2="350.3" y2="236.52" stroke-width="0.92"/>
<line x1="355.6" y1="228.74" x2="353.1" y2="237.74" stroke-width="0.92"/>
<line x1="358.4" y1="229.96" x2="355.9" y2="238.96" stroke-width="0.92"/>
<line x1="361.2" y1="231.18" x2="358.7" y2="240.18" stroke-width="0.92"/>
<polygon points="356.93,243.67 356.53,243.43 356.2,243.07 355.93,242.59 355.73,242.02 355.6,241.35 355.55,240.59 355.57,239.77 355.67,238.89 355.84,237.97 356.09,237.02 356.4,236.06 356.77,235.12 357.2,234.19 357.68,233.31 358.2,232.48 358.74,231.72 359.31,231.04 359.89,230.45 360.47,229.97 361.05,229.6 361.6,229.35 362.13,229.22 362.63,229.21 363.07,229.33 384.07,238.33 384.47,238.57 384.8,238.93 385.07,239.41 385.27,239.98 385.4,240.65 385.45,241.41 385.43,242.23 385.33,243.11 385.16,244.03 384.91,244.98 384.6,245.94 384.23,246.88 383.8,247.81 383.32,248.69 382.8,249.52 382.26,250.28 381.69,250.96 381.11,251.55 380.53,252.03 379.95,252.4 379.4,252.65 378.87,252.78 378.37,252.79 377.93,252.67" fill="#fff" stroke-width="1.38"/>
<ellipse cx="381" cy="245.5" rx="3.51" ry="7.8" fill="#fff" stroke-width="1.38" transform="rotate(23.2 381 245.5)"/>
<line x1="363" y1="230" x2="365" y2="243.5" stroke-width="0.80"/>
<line x1="366" y1="231.3" x2="368" y2="244.8" stroke-width="0.80"/>
<line x1="369" y1="232.6" x2="371" y2="246.1" stroke-width="0.80"/>
<line x1="372" y1="233.9" x2="374" y2="247.4" stroke-width="0.80"/>
<line x1="375" y1="235.2" x2="377" y2="248.7" stroke-width="0.80"/>
<line x1="378" y1="236.5" x2="380" y2="250" stroke-width="0.80"/>
<polygon points="372.31,254.54 371.63,254.14 371.04,253.56 370.55,252.81 370.17,251.89 369.91,250.83 369.78,249.65 369.76,248.36 369.87,246.99 370.1,245.56 370.45,244.09 370.91,242.61 371.48,241.15 372.14,239.73 372.88,238.37 373.69,237.11 374.56,235.95 375.48,234.91 376.41,234.03 377.36,233.31 378.3,232.76 379.22,232.4 380.1,232.22 380.93,232.24 381.69,232.46 401.69,240.96 402.37,241.36 402.96,241.94 403.45,242.69 403.83,243.61 404.09,244.67 404.22,245.85 404.24,247.14 404.13,248.51 403.9,249.94 403.55,251.41 403.09,252.89 402.52,254.35 401.86,255.77 401.12,257.13 400.31,258.39 399.44,259.55 398.52,260.59 397.59,261.47 396.64,262.19 395.7,262.74 394.78,263.1 393.9,263.28 393.07,263.26 392.31,263.04" fill="#fff" stroke-width="1.38"/>
<ellipse cx="397" cy="252" rx="6" ry="12" fill="#fff" stroke-width="1.38" transform="rotate(23.03 397 252)"/>
<ellipse cx="423" cy="273.5" rx="39" ry="57.5" fill="#fff" stroke-width="1.49" transform="rotate(15 423 273.5)"/>
<polyline points="404.63,324.24 402.06,321.53 399.72,318.47 397.62,315.07 395.8,311.36 394.25,307.37 392.99,303.13 392.03,298.67 391.38,294.03 391.05,289.25 391.03,284.36 391.32,279.4 391.93,274.42 392.85,269.44 394.08,264.5 395.59,259.66 397.39,254.93 399.45,250.37 401.76,246 404.3,241.87 407.06,238 410.01,234.42 413.13,231.16 416.39,228.25 419.76,225.7 423.23,223.55 426.77,221.8 430.34,220.47 433.92,219.58 437.48,219.12 440.99,219.09" fill="none" stroke-width="1.15"/>
<polyline points="437,240 445,222" fill="none" stroke-width="1.03"/>
<polyline points="444,243 455,224" fill="none" stroke-width="1.03"/>
<ellipse cx="416.5" cy="252.5" rx="12.5" ry="16" fill="#fff" stroke-width="1.38" transform="rotate(22 416.5 252.5)"/>
<ellipse cx="417.5" cy="253" rx="10.2" ry="13.5" fill="none" stroke-width="0.92" transform="rotate(22 417.5 253)"/>
<ellipse cx="419" cy="253.5" rx="6.8" ry="9.2" fill="none" stroke-width="1.26" transform="rotate(22 419 253.5)"/>
<ellipse cx="452" cy="284" rx="39.5" ry="53" fill="#fff" stroke-width="1.49" transform="rotate(14 452 284)"/>
<ellipse cx="458" cy="285.5" rx="39.5" ry="53" fill="#fff" stroke-width="1.49" transform="rotate(14 458 285.5)"/>
<ellipse cx="459.5" cy="288" rx="29" ry="38.5" fill="none" stroke-width="1.26" transform="rotate(14 459.5 288)"/>
<ellipse cx="461" cy="291" rx="21.5" ry="27.5" fill="none" stroke-width="1.03" transform="rotate(14 461 291)"/>
<ellipse cx="452" cy="270" rx="5" ry="7.5" fill="none" stroke-width="1.15" transform="rotate(25 452 270)"/>
<polygon points="454.07,303.86 453.4,303.38 452.87,302.67 452.47,301.75 452.22,300.62 452.12,299.31 452.18,297.84 452.38,296.24 452.73,294.53 453.22,292.74 453.85,290.91 454.6,289.06 455.45,287.23 456.41,285.44 457.44,283.73 458.53,282.13 459.66,280.67 460.82,279.36 461.98,278.24 463.12,277.31 464.23,276.61 465.28,276.13 466.26,275.89 467.15,275.89 467.93,276.14 476.93,280.64 477.6,281.12 478.13,281.83 478.53,282.75 478.78,283.88 478.88,285.19 478.82,286.66 478.62,288.26 478.27,289.97 477.78,291.76 477.15,293.59 476.4,295.44 475.55,297.27 474.59,299.06 473.56,300.77 472.47,302.37 471.34,303.83 470.18,305.14 469.02,306.26 467.88,307.19 466.77,307.89 465.72,308.37 464.74,308.61 463.85,308.61 463.07,308.36" fill="#fff" stroke-width="1.38"/>
<ellipse cx="470" cy="294.5" rx="6.2" ry="15.5" fill="#fff" stroke-width="1.38" transform="rotate(26.57 470 294.5)"/>
<polygon points="464.28,305.61 463.74,305.22 463.32,304.64 463.01,303.89 462.82,302.98 462.75,301.92 462.81,300.74 462.99,299.45 463.29,298.07 463.7,296.64 464.22,295.16 464.85,293.68 465.56,292.21 466.34,290.78 467.19,289.41 468.08,288.13 469.01,286.96 469.96,285.92 470.9,285.02 471.84,284.29 472.74,283.73 473.59,283.36 474.38,283.17 475.1,283.18 475.72,283.39 508.72,300.39 509.26,300.78 509.68,301.36 509.99,302.11 510.18,303.02 510.25,304.08 510.19,305.26 510.01,306.55 509.71,307.93 509.3,309.36 508.78,310.84 508.15,312.32 507.44,313.79 506.66,315.22 505.81,316.59 504.92,317.87 503.99,319.04 503.04,320.08 502.1,320.98 501.16,321.71 500.26,322.27 499.41,322.64 498.62,322.83 497.9,322.82 497.28,322.61" fill="#fff" stroke-width="1.38"/>
<ellipse cx="503" cy="311.5" rx="5" ry="12.5" fill="#fff" stroke-width="1.38" transform="rotate(27.26 503 311.5)"/>
<path d="M506.5,299.8 L520,314.5 L514,326 L497.5,322.2 Z" fill="#fff" stroke-width="1.2"/>
<ellipse cx="503" cy="311" rx="5.2" ry="12.5" fill="#fff" stroke-width="1.15" transform="rotate(27.7 503 311)"/>
<polygon points="512.25,325 511.8,324.73 511.41,324.37 511.08,323.91 510.82,323.37 510.63,322.76 510.51,322.08 510.47,321.34 510.51,320.57 510.62,319.77 510.81,318.96 511.07,318.15 511.4,317.35 511.79,316.58 512.23,315.85 512.73,315.18 513.26,314.57 513.82,314.04 514.4,313.59 514.99,313.24 515.58,312.98 516.16,312.83 516.72,312.78 517.26,312.84 517.75,313 541.75,324 542.2,324.27 542.59,324.63 542.92,325.09 543.18,325.63 543.37,326.24 543.49,326.92 543.53,327.66 543.49,328.43 543.38,329.23 543.19,330.04 542.93,330.85 542.6,331.65 542.21,332.42 541.77,333.15 541.27,333.82 540.74,334.43 540.18,334.96 539.6,335.41 539.01,335.76 538.42,336.02 537.84,336.17 537.28,336.22 536.74,336.16 536.25,336" fill="#fff" stroke-width="1.38"/>
<ellipse cx="539" cy="330" rx="3.96" ry="6.6" fill="#fff" stroke-width="1.38" transform="rotate(24.62 539 330)"/>
<line x1="521" y1="313.5" x2="517" y2="325" stroke-width="0.92"/>
<line x1="524.3" y1="315" x2="520.3" y2="326.5" stroke-width="0.92"/>
<line x1="527.6" y1="316.5" x2="523.6" y2="328" stroke-width="0.92"/>
<line x1="530.9" y1="318" x2="526.9" y2="329.5" stroke-width="0.92"/>
<line x1="534.2" y1="319.5" x2="530.2" y2="331" stroke-width="0.92"/>
<line x1="537.5" y1="321" x2="533.5" y2="332.5" stroke-width="0.92"/>
<line x1="508" y1="312.5" x2="524" y2="318.5" stroke-width="1.03"/>
<line x1="507" y1="314.5" x2="522" y2="320" stroke-width="0.80"/>
<line x1="364.75" y1="280.9" x2="383" y2="280.9" stroke-width="1.15"/>
<text transform="translate(355.5 285.75) scale(0.88 1)" x="0" y="0" font-size="13.8" fill="#111" stroke="#111" stroke-width="0.45">8</text>
<line x1="490" y1="242.5" x2="508.9" y2="242.5" stroke-width="1.15"/>
<text transform="translate(511.5 246.5) scale(0.88 1)" x="0" y="0" font-size="13.8" fill="#111" stroke="#111" stroke-width="0.45">9</text>
<polygon points="565.07,374.47 562.08,373.12 559.34,371.22 556.9,368.78 554.8,365.86 553.07,362.51 551.74,358.78 550.85,354.73 550.39,350.44 550.39,345.97 550.84,341.41 551.73,336.84 553.04,332.32 554.76,327.94 556.86,323.78 559.29,319.9 562.03,316.37 565.01,313.25 568.2,310.6 571.53,308.45 574.95,306.86 578.39,305.83 581.81,305.4 585.15,305.57 588.33,306.33 600.63,310.53 603.62,311.88 606.36,313.78 608.8,316.22 610.9,319.14 612.63,322.49 613.96,326.22 614.85,330.27 615.31,334.56 615.31,339.03 614.86,343.59 613.97,348.16 612.66,352.68 610.94,357.06 608.84,361.22 606.41,365.1 603.67,368.63 600.69,371.75 597.5,374.4 594.17,376.55 590.75,378.14 587.31,379.17 583.89,379.6 580.55,379.43 577.37,378.67" fill="#fff" stroke-width="1.49"/>
<ellipse cx="589" cy="344.6" rx="25" ry="36" fill="#fff" stroke-width="1.49" transform="rotate(18.85 589 344.6)"/>
<ellipse cx="589" cy="344.6" rx="22" ry="32.5" fill="none" stroke-width="1.15" transform="rotate(19 589 344.6)"/>
<ellipse cx="589" cy="345" rx="18.5" ry="27" fill="none" stroke-width="0.92" transform="rotate(19 589 345)"/>
<ellipse cx="596.9" cy="361.06" rx="3.9" ry="4.3" fill="none" stroke-width="1.03" transform="rotate(19 596.9 361.06)"/>
<ellipse cx="582.77" cy="366.08" rx="3.9" ry="4.3" fill="none" stroke-width="1.03" transform="rotate(19 582.77 366.08)"/>
<ellipse cx="573.33" cy="355.23" rx="3.9" ry="4.3" fill="none" stroke-width="1.03" transform="rotate(19 573.33 355.23)"/>
<ellipse cx="575.68" cy="336.69" rx="3.9" ry="4.3" fill="none" stroke-width="1.03" transform="rotate(19 575.68 336.69)"/>
<ellipse cx="588.05" cy="324.4" rx="3.9" ry="4.3" fill="none" stroke-width="1.03" transform="rotate(19 588.05 324.4)"/>
<ellipse cx="601.13" cy="327.6" rx="3.9" ry="4.3" fill="none" stroke-width="1.03" transform="rotate(19 601.13 327.6)"/>
<ellipse cx="605.09" cy="343.89" rx="3.9" ry="4.3" fill="none" stroke-width="1.03" transform="rotate(19 605.09 343.89)"/>
<ellipse cx="588.5" cy="346" rx="13" ry="17" fill="#fff" stroke-width="1.26" transform="rotate(19 588.5 346)"/>
<ellipse cx="588.5" cy="346" rx="9.5" ry="13" fill="none" stroke-width="1.15" transform="rotate(19 588.5 346)"/>
<ellipse cx="587.8" cy="346.6" rx="8" ry="11.5" fill="none" stroke-width="0.92" transform="rotate(19 587.8 346.6)"/>
<line x1="615" y1="342.5" x2="651" y2="342.5" stroke-width="1.15"/>
<text transform="translate(654.5 349) scale(0.88 1)" x="0" y="0" font-size="13.8" fill="#111" stroke="#111" stroke-width="0.45">16</text>
<polygon points="551.03,33.07 550.75,32.87 550.52,32.6 550.34,32.25 550.21,31.84 550.15,31.38 550.13,30.86 550.18,30.3 550.28,29.72 550.44,29.11 550.65,28.49 550.91,27.87 551.21,27.26 551.56,26.68 551.93,26.12 552.33,25.61 552.76,25.14 553.19,24.73 553.63,24.39 554.07,24.12 554.5,23.92 554.91,23.8 555.3,23.76 555.65,23.8 555.97,23.93 574.47,33.93 574.75,34.13 574.98,34.4 575.16,34.75 575.29,35.16 575.35,35.62 575.37,36.14 575.32,36.7 575.22,37.28 575.06,37.89 574.85,38.51 574.59,39.13 574.29,39.74 573.94,40.32 573.57,40.88 573.17,41.39 572.74,41.86 572.31,42.27 571.87,42.61 571.43,42.88 571,43.08 570.59,43.2 570.2,43.24 569.85,43.2 569.53,43.07" fill="#fff" stroke-width="1.49"/>
<ellipse cx="572" cy="38.5" rx="2.6" ry="5.2" fill="#fff" stroke-width="1.49" transform="rotate(28.39 572 38.5)"/>
<line x1="558" y1="23.6" x2="553.5" y2="32.2" stroke-width="1.15"/>
<line x1="560.6" y1="24.98" x2="556.1" y2="33.58" stroke-width="1.15"/>
<line x1="563.2" y1="26.36" x2="558.7" y2="34.96" stroke-width="1.15"/>
<line x1="565.8" y1="27.74" x2="561.3" y2="36.34" stroke-width="1.15"/>
<line x1="568.4" y1="29.12" x2="563.9" y2="37.72" stroke-width="1.15"/>
<line x1="571" y1="30.5" x2="566.5" y2="39.1" stroke-width="1.15"/>
<polygon points="574.4,43.04 574.23,43.32 574.06,43.61 573.88,43.89 573.71,44.17 573.53,44.44 573.35,44.72 573.02,44.74 572.56,44.52 572.16,44.33 572.01,44.55 571.85,44.76 571.7,44.98 571.54,45.19 571.38,45.39 571.22,45.6 571.06,45.8 570.9,46 570.74,46.2 570.72,47.11 570.7,48.24 570.5,48.46 570.31,48.68 570.11,48.9 569.91,49.11 569.71,49.32 569.51,49.52 569.31,49.72 569.11,49.92 568.91,50.11 568.71,50.29 568.53,50.02 568.39,49.33 568.26,48.73 568.1,48.87 567.94,49 567.77,49.13 567.61,49.25 567.44,49.37 567.28,49.49 567.12,49.6 566.96,49.71 566.8,49.81 566.42,50.95 565.96,52.36 565.78,52.47 565.59,52.57 565.4,52.66 565.21,52.75 565.03,52.84 564.85,52.92 564.67,52.99 564.49,53.06 564.31,53.12 564.14,53.17 564.15,52.66 564.36,51.66 564.54,50.78 564.4,50.81 564.26,50.83 564.13,50.85 564,50.86 563.86,50.86 563.74,50.86 563.61,50.86 563.49,50.85 563.36,50.83 562.72,51.94 561.92,53.31 561.78,53.27 561.65,53.23 561.52,53.18 561.39,53.13 561.26,53.07 561.14,53.01 561.02,52.93 560.9,52.86 560.79,52.77 560.68,52.69 560.89,52.06 561.39,50.97 561.83,50.03 561.75,49.93 561.68,49.84 561.6,49.73 561.53,49.63 561.46,49.52 561.4,49.4 561.33,49.28 561.28,49.16 561.22,49.03 560.45,49.84 559.5,50.86 559.45,50.69 559.39,50.52 559.35,50.34 559.3,50.15 559.26,49.97 559.23,49.77 559.19,49.57 559.17,49.37 559.14,49.16 559.12,48.95 559.48,48.35 560.17,47.43 560.77,46.63 560.77,46.44 560.77,46.25 560.77,46.05 560.78,45.85 560.79,45.65 560.8,45.45 560.82,45.24 560.83,45.03 560.86,44.82 560.15,45.15 559.26,45.59 559.3,45.32 559.34,45.05 559.39,44.78 559.44,44.51 559.5,44.23 559.55,43.96 559.62,43.68 559.68,43.39 559.76,43.11 559.83,42.82 560.25,42.38 560.97,41.84 561.59,41.37 561.67,41.12 561.74,40.88 561.82,40.64 561.91,40.39 561.99,40.14 562.08,39.9 562.17,39.65 562.26,39.4 562.36,39.15 561.87,38.94 561.24,38.69 561.37,38.39 561.5,38.09 561.63,37.79 561.77,37.49 561.91,37.19 562.05,36.89 562.19,36.59 562.34,36.3 562.49,36 562.64,35.7 563.03,35.53 563.61,35.48 564.11,35.45 564.25,35.21 564.38,34.97 564.52,34.73 564.66,34.5 564.8,34.26 564.95,34.03 565.09,33.8 565.24,33.57 565.39,33.34 565.22,32.63 565.01,31.74 565.19,31.48 565.38,31.21 565.56,30.95 565.75,30.7 565.94,30.44 566.13,30.19 566.32,29.95 566.52,29.7 566.71,29.46 566.91,29.23 567.17,29.35 567.48,29.82 567.75,30.23 567.92,30.05 568.08,29.87 568.24,29.69 568.41,29.52 568.58,29.35 568.74,29.18 568.91,29.02 569.07,28.86 569.24,28.71 569.44,27.66 569.69,26.35 569.89,26.18 570.08,26.01 570.28,25.85 570.48,25.7 570.68,25.54 570.87,25.4 571.07,25.26 571.27,25.12 571.46,25 571.65,24.87 571.74,25.27 571.71,26.15 571.68,26.91 571.83,26.82 571.99,26.74 572.14,26.67 572.29,26.6 572.45,26.53 572.6,26.47 572.74,26.42 572.89,26.37 573.04,26.32 573.56,25.17 574.21,23.74 574.38,23.7 574.54,23.67 574.71,23.64 574.87,23.63 575.03,23.61 575.19,23.61 575.34,23.61 575.49,23.61 575.64,23.62 575.79,23.64 575.67,24.22 575.31,25.3 574.99,26.24 575.1,26.27 575.21,26.31 575.32,26.36 575.42,26.41 575.53,26.46 575.63,26.52 575.72,26.58 575.82,26.65 575.91,26.73 576.64,25.74 577.54,24.51 577.64,24.61 577.73,24.73 577.82,24.84 577.91,24.96 578,25.09 578.08,25.23 578.16,25.36 578.24,25.51 578.31,25.66 578.37,25.81 578.08,26.45 577.47,27.48 576.93,28.38 576.97,28.52 577.01,28.67 577.05,28.83 577.08,28.98 577.11,29.14 577.14,29.31 577.16,29.48 577.18,29.65 577.2,29.83 577.96,29.23 578.91,28.48 578.92,28.71 578.92,28.94 578.92,29.17 578.92,29.4 578.91,29.64 578.9,29.89 578.88,30.13 578.86,30.38 578.84,30.64 578.81,30.89 578.41,31.43 577.68,32.18 577.05,32.84 577.02,33.06 576.98,33.29 576.93,33.51 576.89,33.74 576.84,33.97 576.79,34.2 576.73,34.44 576.67,34.67 576.61,34.91 577.23,34.85 578.01,34.75 577.93,35.05 577.84,35.34 577.74,35.63 577.65,35.93 577.55,36.22 577.44,36.52 577.34,36.82 577.23,37.12 577.11,37.41 577,37.71 576.58,38.03 575.91,38.33 575.33,38.59 575.22,38.84 575.11,39.09 575,39.34 574.89,39.59 574.77,39.84 574.65,40.08 574.53,40.33 574.41,40.58 574.28,40.82 574.62,41.3 575.05,41.88 574.89,42.17 574.73,42.46 574.56,42.75 574.4,43.04" fill="#fff" stroke-width="1.26"/>
<line x1="565.21" y1="52.75" x2="571.71" y2="56.25" stroke-width="0.92"/>
<line x1="563.32" y1="53.35" x2="569.82" y2="56.85" stroke-width="0.92"/>
<line x1="561.39" y1="53.13" x2="567.89" y2="56.63" stroke-width="0.92"/>
<line x1="560.19" y1="52.18" x2="566.69" y2="55.68" stroke-width="0.92"/>
<line x1="559.3" y1="50.15" x2="565.8" y2="53.65" stroke-width="0.92"/>
<line x1="559.08" y1="47.88" x2="565.58" y2="51.38" stroke-width="0.92"/>
<line x1="559.44" y1="44.51" x2="565.94" y2="48.01" stroke-width="0.92"/>
<line x1="560.24" y1="41.43" x2="566.74" y2="44.93" stroke-width="0.92"/>
<line x1="561.77" y1="37.49" x2="568.27" y2="40.99" stroke-width="0.92"/>
<line x1="563.4" y1="34.3" x2="569.9" y2="37.8" stroke-width="0.92"/>
<line x1="565.75" y1="30.7" x2="572.25" y2="34.2" stroke-width="0.92"/>
<line x1="567.85" y1="28.14" x2="574.35" y2="31.64" stroke-width="0.92"/>
<line x1="570.48" y1="25.7" x2="576.98" y2="29.2" stroke-width="0.92"/>
<line x1="572.56" y1="24.36" x2="579.06" y2="27.86" stroke-width="0.92"/>
<line x1="574.87" y1="23.63" x2="581.37" y2="27.13" stroke-width="0.92"/>
<line x1="576.46" y1="23.81" x2="582.96" y2="27.31" stroke-width="0.92"/>
<line x1="577.91" y1="24.96" x2="584.41" y2="28.46" stroke-width="0.92"/>
<line x1="578.64" y1="26.62" x2="585.14" y2="30.12" stroke-width="0.92"/>
<polygon points="580.9,46.54 580.73,46.82 580.56,47.11 580.38,47.39 580.21,47.67 580.03,47.94 579.85,48.22 579.52,48.24 579.06,48.02 578.66,47.83 578.51,48.05 578.35,48.26 578.2,48.48 578.04,48.69 577.88,48.89 577.72,49.1 577.56,49.3 577.4,49.5 577.24,49.7 577.22,50.61 577.2,51.74 577,51.96 576.81,52.18 576.61,52.4 576.41,52.61 576.21,52.82 576.01,53.02 575.81,53.22 575.61,53.42 575.41,53.61 575.21,53.79 575.03,53.52 574.89,52.83 574.76,52.23 574.6,52.37 574.44,52.5 574.27,52.63 574.11,52.75 573.94,52.87 573.78,52.99 573.62,53.1 573.46,53.21 573.3,53.31 572.92,54.45 572.46,55.86 572.28,55.97 572.09,56.07 571.9,56.16 571.71,56.25 571.53,56.34 571.35,56.42 571.17,56.49 570.99,56.56 570.81,56.62 570.64,56.67 570.65,56.16 570.86,55.16 571.04,54.28 570.9,54.31 570.76,54.33 570.63,54.35 570.5,54.36 570.36,54.36 570.24,54.36 570.11,54.36 569.99,54.35 569.86,54.33 569.22,55.44 568.42,56.81 568.28,56.77 568.15,56.73 568.02,56.68 567.89,56.63 567.76,56.57 567.64,56.51 567.52,56.43 567.4,56.36 567.29,56.27 567.18,56.19 567.39,55.56 567.89,54.47 568.33,53.53 568.25,53.43 568.18,53.34 568.1,53.23 568.03,53.13 567.96,53.02 567.9,52.9 567.83,52.78 567.78,52.66 567.72,52.53 566.95,53.34 566,54.36 565.95,54.19 565.89,54.02 565.85,53.84 565.8,53.65 565.76,53.47 565.73,53.27 565.69,53.07 565.67,52.87 565.64,52.66 565.62,52.45 565.98,51.85 566.67,50.93 567.27,50.13 567.27,49.94 567.27,49.75 567.27,49.55 567.28,49.35 567.29,49.15 567.3,48.95 567.32,48.74 567.33,48.53 567.36,48.32 566.65,48.65 565.76,49.09 565.8,48.82 565.84,48.55 565.89,48.28 565.94,48.01 566,47.73 566.05,47.46 566.12,47.18 566.18,46.89 566.26,46.61 566.33,46.32 566.75,45.88 567.47,45.34 568.09,44.87 568.17,44.62 568.24,44.38 568.32,44.14 568.41,43.89 568.49,43.64 568.58,43.4 568.67,43.15 568.76,42.9 568.86,42.65 568.37,42.44 567.74,42.19 567.87,41.89 568,41.59 568.13,41.29 568.27,40.99 568.41,40.69 568.55,40.39 568.69,40.09 568.84,39.8 568.99,39.5 569.14,39.2 569.53,39.03 570.11,38.98 570.61,38.95 570.75,38.71 570.88,38.47 571.02,38.23 571.16,38 571.3,37.76 571.45,37.53 571.59,37.3 571.74,37.07 571.89,36.84 571.72,36.13 571.51,35.24 571.69,34.98 571.88,34.71 572.06,34.45 572.25,34.2 572.44,33.94 572.63,33.69 572.82,33.45 573.02,33.2 573.21,32.96 573.41,32.73 573.67,32.85 573.98,33.32 574.25,33.73 574.42,33.55 574.58,33.37 574.74,33.19 574.91,33.02 575.08,32.85 575.24,32.68 575.41,32.52 575.57,32.36 575.74,32.21 575.94,31.16 576.19,29.85 576.39,29.68 576.58,29.51 576.78,29.35 576.98,29.2 577.18,29.04 577.37,28.9 577.57,28.76 577.77,28.62 577.96,28.5 578.15,28.37 578.24,28.77 578.21,29.65 578.18,30.41 578.33,30.32 578.49,30.24 578.64,30.17 578.79,30.1 578.95,30.03 579.1,29.97 579.24,29.92 579.39,29.87 579.54,29.82 580.06,28.67 580.71,27.24 580.88,27.2 581.04,27.17 581.21,27.14 581.37,27.13 581.53,27.11 581.69,27.11 581.84,27.11 581.99,27.11 582.14,27.12 582.29,27.14 582.17,27.72 581.81,28.8 581.49,29.74 581.6,29.77 581.71,29.81 581.82,29.86 581.92,29.91 582.03,29.96 582.13,30.02 582.22,30.08 582.32,30.15 582.41,30.23 583.14,29.24 584.04,28.01 584.14,28.11 584.23,28.23 584.32,28.34 584.41,28.46 584.5,28.59 584.58,28.73 584.66,28.86 584.74,29.01 584.81,29.16 584.87,29.31 584.58,29.95 583.97,30.98 583.43,31.88 583.47,32.02 583.51,32.17 583.55,32.33 583.58,32.48 583.61,32.64 583.64,32.81 583.66,32.98 583.68,33.15 583.7,33.33 584.46,32.73 585.41,31.98 585.42,32.21 585.42,32.44 585.42,32.67 585.42,32.9 585.41,33.14 585.4,33.39 585.38,33.63 585.36,33.88 585.34,34.14 585.31,34.39 584.91,34.93 584.18,35.68 583.55,36.34 583.52,36.56 583.48,36.79 583.43,37.01 583.39,37.24 583.34,37.47 583.29,37.7 583.23,37.94 583.17,38.17 583.11,38.41 583.73,38.35 584.51,38.25 584.43,38.55 584.34,38.84 584.24,39.13 584.15,39.43 584.05,39.72 583.94,40.02 583.84,40.32 583.73,40.62 583.61,40.91 583.5,41.21 583.08,41.53 582.41,41.83 581.83,42.09 581.72,42.34 581.61,42.59 581.5,42.84 581.39,43.09 581.27,43.34 581.15,43.58 581.03,43.83 580.91,44.08 580.78,44.32 581.12,44.8 581.55,45.38 581.39,45.67 581.23,45.96 581.06,46.25 580.9,46.54" fill="#fff" stroke-width="1.26"/>
<polygon points="586.47,51.47 585.83,51.15 585.57,51.28 585.39,51.52 585.22,51.76 585.04,52 584.86,52.24 584.68,52.48 584.5,52.71 584.32,52.94 584.14,53.17 584.08,53.7 584.48,55.54 584.26,55.8 584.03,56.05 583.81,56.3 583.58,56.55 583.35,56.79 583.12,57.03 582.89,57.27 582.66,57.5 582.43,57.73 582.2,57.95 581.94,57.97 581.59,57.19 581.28,56.38 581.06,56.35 580.86,56.52 580.67,56.68 580.47,56.84 580.27,57 580.07,57.15 579.87,57.3 579.68,57.44 579.48,57.58 579.26,58.17 578.91,60.58 578.67,60.73 578.44,60.88 578.2,61.02 577.97,61.15 577.74,61.28 577.51,61.4 577.27,61.52 577.04,61.63 576.81,61.74 576.58,61.84 576.41,61.69 576.44,60.55 576.51,59.38 576.37,59.2 576.18,59.26 576,59.32 575.81,59.37 575.63,59.42 575.45,59.46 575.27,59.5 575.09,59.53 574.91,59.56 574.57,60.09 573.52,62.67 573.32,62.68 573.11,62.69 572.91,62.7 572.71,62.7 572.51,62.69 572.32,62.68 572.13,62.66 571.94,62.63 571.75,62.6 571.56,62.56 571.49,62.27 571.9,60.95 572.34,59.64 572.31,59.34 572.17,59.28 572.02,59.22 571.88,59.16 571.75,59.09 571.61,59.02 571.48,58.94 571.35,58.85 571.22,58.76 570.82,59.15 569.26,61.44 569.12,61.32 568.98,61.2 568.84,61.06 568.71,60.92 568.58,60.78 568.46,60.63 568.34,60.48 568.22,60.32 568.11,60.16 568,59.99 568.05,59.59 568.76,58.34 569.49,57.11 569.58,56.74 569.5,56.58 569.43,56.41 569.36,56.24 569.29,56.06 569.23,55.89 569.16,55.7 569.11,55.52 569.05,55.33 568.65,55.5 566.85,57.12 566.8,56.88 566.75,56.64 566.71,56.39 566.66,56.14 566.63,55.89 566.6,55.63 566.57,55.37 566.54,55.1 566.52,54.83 566.51,54.56 566.68,54.14 567.57,53.16 568.47,52.22 568.65,51.85 568.65,51.61 568.66,51.36 568.67,51.11 568.68,50.86 568.7,50.61 568.72,50.36 568.75,50.1 568.78,49.85 568.45,49.78 566.72,50.43 566.76,50.12 566.81,49.81 566.87,49.49 566.92,49.17 566.99,48.85 567.05,48.53 567.12,48.2 567.19,47.88 567.27,47.55 567.35,47.22 567.6,46.85 568.52,46.32 569.43,45.83 569.68,45.51 569.76,45.23 569.85,44.95 569.94,44.67 570.04,44.39 570.13,44.11 570.23,43.83 570.33,43.55 570.44,43.27 570.25,42.97 568.88,42.55 569.02,42.22 569.16,41.88 569.3,41.55 569.44,41.22 569.59,40.89 569.74,40.55 569.9,40.22 570.06,39.89 570.22,39.57 570.38,39.24 570.68,38.97 571.46,38.98 572.23,39.03 572.5,38.83 572.65,38.56 572.8,38.3 572.95,38.03 573.11,37.77 573.27,37.5 573.43,37.24 573.59,36.99 573.76,36.73 573.73,36.25 572.97,34.84 573.17,34.54 573.37,34.24 573.58,33.95 573.79,33.66 574,33.38 574.21,33.09 574.42,32.81 574.64,32.54 574.86,32.26 575.08,31.99 575.36,31.88 575.88,32.43 576.37,33.01 576.61,32.96 576.8,32.75 576.99,32.54 577.18,32.33 577.38,32.13 577.57,31.93 577.76,31.74 577.96,31.55 578.15,31.36 578.3,30.79 578.27,28.62 578.5,28.41 578.74,28.2 578.97,28 579.21,27.81 579.44,27.62 579.68,27.43 579.91,27.25 580.15,27.07 580.39,26.9 580.62,26.74 580.85,26.8 581.01,27.79 581.13,28.8 581.31,28.9 581.51,28.79 581.7,28.67 581.9,28.57 582.1,28.46 582.29,28.36 582.48,28.27 582.68,28.18 582.87,28.09 583.16,27.52 583.87,24.97 584.09,24.89 584.32,24.81 584.54,24.73 584.76,24.67 584.98,24.6 585.2,24.55 585.42,24.5 585.63,24.45 585.85,24.41 586.06,24.38 586.19,24.61 585.96,25.86 585.7,27.13 585.79,27.38 585.95,27.37 586.12,27.37 586.29,27.38 586.45,27.39 586.61,27.41 586.77,27.43 586.93,27.46 587.09,27.49 587.47,27.02 588.8,24.53 588.98,24.58 589.15,24.64 589.33,24.71 589.5,24.78 589.66,24.86 589.83,24.94 589.99,25.03 590.14,25.12 590.3,25.22 590.45,25.33 590.46,25.68 589.88,26.99 589.29,28.29 589.26,28.64 589.37,28.75 589.48,28.86 589.59,28.98 589.69,29.11 589.8,29.24 589.89,29.37 589.99,29.51 590.08,29.65 590.49,29.36 592.21,27.37 592.31,27.55 592.41,27.74 592.5,27.93 592.59,28.13 592.67,28.34 592.75,28.54 592.83,28.76 592.9,28.97 592.97,29.19 593.03,29.42 592.92,29.83 592.1,30.97 591.27,32.08 591.13,32.47 591.17,32.67 591.2,32.88 591.23,33.1 591.26,33.31 591.28,33.53 591.3,33.76 591.32,33.98 591.33,34.21 591.7,34.15 593.51,32.99 593.51,33.28 593.51,33.56 593.51,33.85 593.5,34.14 593.49,34.44 593.47,34.73 593.45,35.03 593.42,35.33 593.4,35.64 593.36,35.94 593.15,36.35 592.22,37.12 591.3,37.85 591.08,38.2 591.03,38.47 590.98,38.74 590.93,39.01 590.88,39.28 590.82,39.55 590.76,39.82 590.69,40.1 590.62,40.37 590.89,40.56 592.47,40.44 592.38,40.77 592.28,41.1 592.18,41.44 592.08,41.77 591.97,42.1 591.86,42.44 591.75,42.77 591.63,43.11 591.51,43.44 591.38,43.78 591.1,44.1 590.23,44.37 589.37,44.59 589.11,44.86 588.99,45.14 588.87,45.42 588.74,45.7 588.62,45.97 588.48,46.25 588.35,46.53 588.22,46.81 588.08,47.08 588.19,47.48 589.28,48.41 589.11,48.74 588.93,49.06 588.75,49.38 588.57,49.7 588.39,50.01 588.2,50.33 588.01,50.64 587.82,50.95 587.63,51.26 587.43,51.56 587.14,51.75 586.47,51.47" fill="#fff" stroke-width="1.26"/>
<line x1="573.77" y1="62.64" x2="582.27" y2="67.14" stroke-width="0.92"/>
<line x1="571.2" y1="62.47" x2="579.7" y2="66.97" stroke-width="0.92"/>
<line x1="569.43" y1="61.58" x2="577.93" y2="66.08" stroke-width="0.92"/>
<line x1="567.79" y1="59.63" x2="576.29" y2="64.13" stroke-width="0.92"/>
<line x1="566.92" y1="57.4" x2="575.42" y2="61.9" stroke-width="0.92"/>
<line x1="566.49" y1="54.01" x2="574.99" y2="58.51" stroke-width="0.92"/>
<line x1="566.67" y1="50.81" x2="575.17" y2="55.31" stroke-width="0.92"/>
<line x1="567.53" y1="46.56" x2="576.03" y2="51.06" stroke-width="0.92"/>
<line x1="568.72" y1="42.96" x2="577.22" y2="47.46" stroke-width="0.92"/>
<line x1="570.72" y1="38.59" x2="579.22" y2="43.09" stroke-width="0.92"/>
<line x1="572.73" y1="35.2" x2="581.23" y2="39.7" stroke-width="0.92"/>
<line x1="575.52" y1="31.46" x2="584.02" y2="35.96" stroke-width="0.92"/>
<line x1="577.99" y1="28.87" x2="586.49" y2="33.37" stroke-width="0.92"/>
<line x1="581.09" y1="26.42" x2="589.59" y2="30.92" stroke-width="0.92"/>
<line x1="583.6" y1="25.08" x2="592.1" y2="29.58" stroke-width="0.92"/>
<line x1="586.48" y1="24.33" x2="594.98" y2="28.83" stroke-width="0.92"/>
<line x1="588.59" y1="24.47" x2="597.09" y2="28.97" stroke-width="0.92"/>
<line x1="590.74" y1="25.56" x2="599.24" y2="30.06" stroke-width="0.92"/>
<line x1="592.09" y1="27.15" x2="600.59" y2="31.65" stroke-width="0.92"/>
<polygon points="594.97,55.97 594.33,55.65 594.07,55.78 593.89,56.02 593.72,56.26 593.54,56.5 593.36,56.74 593.18,56.98 593,57.21 592.82,57.44 592.64,57.67 592.58,58.2 592.98,60.04 592.76,60.3 592.53,60.55 592.31,60.8 592.08,61.05 591.85,61.29 591.62,61.53 591.39,61.77 591.16,62 590.93,62.23 590.7,62.45 590.44,62.47 590.09,61.69 589.78,60.88 589.56,60.85 589.36,61.02 589.17,61.18 588.97,61.34 588.77,61.5 588.57,61.65 588.37,61.8 588.18,61.94 587.98,62.08 587.76,62.67 587.41,65.08 587.17,65.23 586.94,65.38 586.7,65.52 586.47,65.65 586.24,65.78 586.01,65.9 585.77,66.02 585.54,66.13 585.31,66.24 585.08,66.34 584.91,66.19 584.94,65.05 585.01,63.88 584.87,63.7 584.68,63.76 584.5,63.82 584.31,63.87 584.13,63.92 583.95,63.96 583.77,64 583.59,64.03 583.41,64.06 583.07,64.59 582.02,67.17 581.82,67.18 581.61,67.19 581.41,67.2 581.21,67.2 581.01,67.19 580.82,67.18 580.63,67.16 580.44,67.13 580.25,67.1 580.06,67.06 579.99,66.77 580.4,65.45 580.84,64.14 580.81,63.84 580.67,63.78 580.52,63.72 580.38,63.66 580.25,63.59 580.11,63.52 579.98,63.44 579.85,63.35 579.72,63.26 579.32,63.65 577.76,65.94 577.62,65.82 577.48,65.7 577.34,65.56 577.21,65.42 577.08,65.28 576.96,65.13 576.84,64.98 576.72,64.82 576.61,64.66 576.5,64.49 576.55,64.09 577.26,62.84 577.99,61.61 578.08,61.24 578,61.08 577.93,60.91 577.86,60.74 577.79,60.56 577.73,60.39 577.66,60.2 577.61,60.02 577.55,59.83 577.15,60 575.35,61.62 575.3,61.38 575.25,61.14 575.21,60.89 575.16,60.64 575.13,60.39 575.1,60.13 575.07,59.87 575.04,59.6 575.02,59.33 575.01,59.06 575.18,58.64 576.07,57.66 576.97,56.72 577.15,56.35 577.15,56.11 577.16,55.86 577.17,55.61 577.18,55.36 577.2,55.11 577.22,54.86 577.25,54.6 577.28,54.35 576.95,54.28 575.22,54.93 575.26,54.62 575.31,54.31 575.37,53.99 575.42,53.67 575.49,53.35 575.55,53.03 575.62,52.7 575.69,52.38 575.77,52.05 575.85,51.72 576.1,51.35 577.02,50.82 577.93,50.33 578.18,50.01 578.26,49.73 578.35,49.45 578.44,49.17 578.54,48.89 578.63,48.61 578.73,48.33 578.83,48.05 578.94,47.77 578.75,47.47 577.38,47.05 577.52,46.72 577.66,46.38 577.8,46.05 577.94,45.72 578.09,45.39 578.24,45.05 578.4,44.72 578.56,44.39 578.72,44.07 578.88,43.74 579.18,43.47 579.96,43.48 580.73,43.53 581,43.33 581.15,43.06 581.3,42.8 581.45,42.53 581.61,42.27 581.77,42 581.93,41.74 582.09,41.49 582.26,41.23 582.23,40.75 581.47,39.34 581.67,39.04 581.87,38.74 582.08,38.45 582.29,38.16 582.5,37.88 582.71,37.59 582.92,37.31 583.14,37.04 583.36,36.76 583.58,36.49 583.86,36.38 584.38,36.93 584.87,37.51 585.11,37.46 585.3,37.25 585.49,37.04 585.68,36.83 585.88,36.63 586.07,36.43 586.26,36.24 586.46,36.05 586.65,35.86 586.8,35.29 586.77,33.12 587,32.91 587.24,32.7 587.47,32.5 587.71,32.31 587.94,32.12 588.18,31.93 588.41,31.75 588.65,31.57 588.89,31.4 589.12,31.24 589.35,31.3 589.51,32.29 589.63,33.3 589.81,33.4 590.01,33.29 590.2,33.17 590.4,33.07 590.6,32.96 590.79,32.86 590.98,32.77 591.18,32.68 591.37,32.59 591.66,32.02 592.37,29.47 592.59,29.39 592.82,29.31 593.04,29.23 593.26,29.17 593.48,29.1 593.7,29.05 593.92,29 594.13,28.95 594.35,28.91 594.56,28.88 594.69,29.11 594.46,30.36 594.2,31.63 594.29,31.88 594.45,31.87 594.62,31.87 594.79,31.88 594.95,31.89 595.11,31.91 595.27,31.93 595.43,31.96 595.59,31.99 595.97,31.52 597.3,29.03 597.48,29.08 597.65,29.14 597.83,29.21 598,29.28 598.16,29.36 598.33,29.44 598.49,29.53 598.64,29.62 598.8,29.72 598.95,29.83 598.96,30.18 598.38,31.49 597.79,32.79 597.76,33.14 597.87,33.25 597.98,33.36 598.09,33.48 598.19,33.61 598.3,33.74 598.39,33.87 598.49,34.01 598.58,34.15 598.99,33.86 600.71,31.87 600.81,32.05 600.91,32.24 601,32.43 601.09,32.63 601.17,32.84 601.25,33.04 601.33,33.26 601.4,33.47 601.47,33.69 601.53,33.92 601.42,34.33 600.6,35.47 599.77,36.58 599.63,36.97 599.67,37.17 599.7,37.38 599.73,37.6 599.76,37.81 599.78,38.03 599.8,38.26 599.82,38.48 599.83,38.71 600.2,38.65 602.01,37.49 602.01,37.78 602.01,38.06 602.01,38.35 602,38.64 601.99,38.94 601.97,39.23 601.95,39.53 601.92,39.83 601.9,40.14 601.86,40.44 601.65,40.85 600.72,41.62 599.8,42.35 599.58,42.7 599.53,42.97 599.48,43.24 599.43,43.51 599.38,43.78 599.32,44.05 599.26,44.32 599.19,44.6 599.12,44.87 599.39,45.06 600.97,44.94 600.88,45.27 600.78,45.6 600.68,45.94 600.58,46.27 600.47,46.6 600.36,46.94 600.25,47.27 600.13,47.61 600.01,47.94 599.88,48.28 599.6,48.6 598.73,48.87 597.87,49.09 597.61,49.36 597.49,49.64 597.37,49.92 597.24,50.2 597.12,50.47 596.98,50.75 596.85,51.03 596.72,51.31 596.58,51.58 596.69,51.98 597.78,52.91 597.61,53.24 597.43,53.56 597.25,53.88 597.07,54.2 596.89,54.51 596.7,54.83 596.51,55.14 596.32,55.45 596.13,55.76 595.93,56.06 595.64,56.25 594.97,55.97" fill="#fff" stroke-width="1.26"/>
<polygon points="612.27,56.21 612.03,56.66 611.77,57.11 611.52,57.55 611.25,57.99 610.98,58.43 610.71,58.86 610.42,59.29 610.14,59.71 609.85,60.13 609.55,60.54 609.06,60.75 607.86,60.15 606.71,59.48 606.27,59.59 606.01,59.91 605.74,60.22 605.47,60.53 605.2,60.83 604.92,61.12 604.64,61.41 604.36,61.7 604.07,61.98 604.03,62.77 604.91,65.71 604.55,66.03 604.19,66.34 603.82,66.65 603.45,66.94 603.08,67.23 602.71,67.52 602.33,67.79 601.96,68.06 601.58,68.31 601.19,68.56 600.75,68.49 600.12,67.15 599.54,65.76 599.17,65.61 598.85,65.78 598.53,65.95 598.21,66.1 597.89,66.25 597.57,66.39 597.25,66.52 596.93,66.65 596.61,66.77 596.26,67.57 595.74,71.15 595.35,71.26 594.96,71.37 594.57,71.47 594.18,71.56 593.79,71.63 593.41,71.7 593.02,71.76 592.64,71.81 592.26,71.85 591.88,71.88 591.58,71.54 591.65,69.76 591.78,67.97 591.57,67.6 591.27,67.59 590.97,67.56 590.68,67.53 590.38,67.49 590.09,67.45 589.8,67.39 589.52,67.33 589.24,67.26 588.66,67.88 586.85,71.29 586.52,71.17 586.19,71.05 585.87,70.91 585.55,70.77 585.23,70.62 584.92,70.46 584.62,70.29 584.32,70.11 584.02,69.92 583.74,69.73 583.65,69.2 584.42,67.39 585.23,65.6 585.22,65.1 585,64.9 584.79,64.7 584.59,64.49 584.39,64.27 584.19,64.05 584.01,63.82 583.82,63.58 583.64,63.34 582.97,63.64 580.29,66.09 580.1,65.77 579.9,65.44 579.72,65.11 579.54,64.77 579.37,64.42 579.21,64.07 579.05,63.71 578.91,63.35 578.77,62.97 578.63,62.59 578.78,62 580.06,60.58 581.36,59.21 581.56,58.68 581.48,58.35 581.41,58.01 581.34,57.67 581.28,57.32 581.23,56.97 581.18,56.62 581.14,56.26 581.11,55.9 580.5,55.81 577.56,56.75 577.54,56.3 577.53,55.84 577.53,55.39 577.54,54.93 577.55,54.47 577.57,54 577.6,53.53 577.64,53.06 577.68,52.59 577.74,52.12 578.08,51.59 579.59,50.88 581.09,50.25 581.44,49.81 581.52,49.42 581.6,49.02 581.69,48.63 581.78,48.24 581.88,47.84 581.99,47.45 582.1,47.05 582.22,46.66 581.8,46.2 579.28,45.4 579.45,44.92 579.62,44.45 579.8,43.97 579.99,43.5 580.18,43.03 580.38,42.56 580.59,42.09 580.81,41.62 581.03,41.16 581.25,40.7 581.72,40.36 583.1,40.53 584.45,40.77 584.89,40.53 585.1,40.17 585.31,39.81 585.54,39.45 585.76,39.1 585.99,38.75 586.23,38.4 586.47,38.06 586.71,37.72 586.59,37 585.06,34.65 585.37,34.26 585.69,33.86 586.01,33.48 586.34,33.1 586.67,32.73 587,32.36 587.34,32 587.68,31.64 588.03,31.29 588.38,30.95 588.86,30.88 589.8,31.89 590.69,32.95 591.11,32.96 591.41,32.71 591.71,32.47 592.01,32.23 592.32,32 592.63,31.77 592.94,31.55 593.25,31.34 593.56,31.14 593.76,30.31 593.58,26.96 593.96,26.74 594.35,26.52 594.74,26.31 595.13,26.11 595.52,25.92 595.91,25.74 596.3,25.57 596.69,25.41 597.09,25.26 597.48,25.11 597.86,25.32 598.15,26.93 598.38,28.57 598.68,28.84 598.99,28.76 599.31,28.68 599.63,28.62 599.95,28.56 600.26,28.52 600.58,28.47 600.89,28.44 601.2,28.42 601.67,27.68 602.87,24.09 603.25,24.09 603.62,24.1 603.98,24.11 604.35,24.14 604.71,24.18 605.07,24.23 605.42,24.28 605.78,24.35 606.12,24.43 606.47,24.51 606.66,24.96 606.23,26.81 605.75,28.65 605.86,29.1 606.13,29.21 606.39,29.33 606.65,29.45 606.9,29.58 607.15,29.72 607.4,29.87 607.64,30.02 607.88,30.18 608.52,29.71 610.83,26.69 611.1,26.92 611.37,27.15 611.63,27.39 611.89,27.64 612.14,27.89 612.38,28.16 612.62,28.43 612.85,28.71 613.07,29 613.29,29.3 613.25,29.88 612.2,31.54 611.11,33.16 611.02,33.7 611.17,33.97 611.31,34.25 611.45,34.53 611.59,34.82 611.72,35.12 611.84,35.42 611.95,35.72 612.06,36.03 612.72,35.92 615.61,34.18 615.72,34.58 615.83,34.98 615.92,35.38 616.01,35.8 616.09,36.21 616.17,36.63 616.23,37.06 616.29,37.49 616.34,37.92 616.38,38.36 616.12,38.94 614.69,40.04 613.25,41.07 612.96,41.57 612.96,41.94 612.96,42.32 612.95,42.7 612.93,43.08 612.91,43.46 612.88,43.85 612.84,44.23 612.8,44.62 613.32,44.9 616.13,44.83 616.06,45.31 615.97,45.79 615.88,46.27 615.78,46.75 615.68,47.23 615.56,47.71 615.44,48.19 615.31,48.68 615.17,49.16 615.03,49.64 614.61,50.09 613.12,50.36 611.66,50.57 611.25,50.91 611.1,51.3 610.95,51.69 610.79,52.08 610.63,52.46 610.46,52.85 610.28,53.23 610.1,53.61 609.91,53.99 610.19,54.59 612.27,56.21" fill="#fff" stroke-width="1.26"/>
<line x1="591.58" y1="71.9" x2="600.88" y2="76.9" stroke-width="0.92"/>
<line x1="586.85" y1="71.29" x2="596.15" y2="76.29" stroke-width="0.92"/>
<line x1="583.51" y1="69.56" x2="592.81" y2="74.56" stroke-width="0.92"/>
<line x1="580.29" y1="66.09" x2="589.59" y2="71.09" stroke-width="0.92"/>
<line x1="578.53" y1="62.29" x2="587.83" y2="67.29" stroke-width="0.92"/>
<line x1="577.56" y1="56.75" x2="586.86" y2="61.75" stroke-width="0.92"/>
<line x1="577.78" y1="51.74" x2="587.08" y2="56.74" stroke-width="0.92"/>
<line x1="579.28" y1="45.4" x2="588.58" y2="50.4" stroke-width="0.92"/>
<line x1="581.44" y1="40.33" x2="590.74" y2="45.33" stroke-width="0.92"/>
<line x1="585.06" y1="34.65" x2="594.36" y2="39.65" stroke-width="0.92"/>
<line x1="588.66" y1="30.69" x2="597.96" y2="35.69" stroke-width="0.92"/>
<line x1="593.58" y1="26.96" x2="602.88" y2="31.96" stroke-width="0.92"/>
<line x1="597.79" y1="25" x2="607.09" y2="30" stroke-width="0.92"/>
<line x1="602.87" y1="24.09" x2="612.17" y2="29.09" stroke-width="0.92"/>
<line x1="606.74" y1="24.59" x2="616.04" y2="29.59" stroke-width="0.92"/>
<line x1="610.83" y1="26.69" x2="620.13" y2="31.69" stroke-width="0.92"/>
<line x1="613.46" y1="29.54" x2="622.76" y2="34.54" stroke-width="0.92"/>
<polygon points="621.57,61.21 621.33,61.66 621.07,62.11 620.82,62.55 620.55,62.99 620.28,63.43 620.01,63.86 619.72,64.29 619.44,64.71 619.15,65.13 618.85,65.54 618.36,65.75 617.16,65.15 616.01,64.48 615.57,64.59 615.31,64.91 615.04,65.22 614.77,65.53 614.5,65.83 614.22,66.12 613.94,66.41 613.66,66.7 613.37,66.98 613.33,67.77 614.21,70.71 613.85,71.03 613.49,71.34 613.12,71.65 612.75,71.94 612.38,72.23 612.01,72.52 611.63,72.79 611.26,73.06 610.88,73.31 610.49,73.56 610.05,73.49 609.42,72.15 608.84,70.76 608.47,70.61 608.15,70.78 607.83,70.95 607.51,71.1 607.19,71.25 606.87,71.39 606.55,71.52 606.23,71.65 605.91,71.77 605.56,72.57 605.04,76.15 604.65,76.26 604.26,76.37 603.87,76.47 603.48,76.56 603.09,76.63 602.71,76.7 602.32,76.76 601.94,76.81 601.56,76.85 601.18,76.88 600.88,76.54 600.95,74.76 601.08,72.97 600.87,72.6 600.57,72.59 600.27,72.56 599.98,72.53 599.68,72.49 599.39,72.45 599.1,72.39 598.82,72.33 598.54,72.26 597.96,72.88 596.15,76.29 595.82,76.17 595.49,76.05 595.17,75.91 594.85,75.77 594.53,75.62 594.22,75.46 593.92,75.29 593.62,75.11 593.32,74.92 593.04,74.73 592.95,74.2 593.72,72.39 594.53,70.6 594.52,70.1 594.3,69.9 594.09,69.7 593.89,69.49 593.69,69.27 593.49,69.05 593.31,68.82 593.12,68.58 592.94,68.34 592.27,68.64 589.59,71.09 589.4,70.77 589.2,70.44 589.02,70.11 588.84,69.77 588.67,69.42 588.51,69.07 588.35,68.71 588.21,68.35 588.07,67.97 587.93,67.59 588.08,67 589.36,65.58 590.66,64.21 590.86,63.68 590.78,63.35 590.71,63.01 590.64,62.67 590.58,62.32 590.53,61.97 590.48,61.62 590.44,61.26 590.41,60.9 589.8,60.81 586.86,61.75 586.84,61.3 586.83,60.84 586.83,60.39 586.84,59.93 586.85,59.47 586.87,59 586.9,58.53 586.94,58.06 586.98,57.59 587.04,57.12 587.38,56.59 588.89,55.88 590.39,55.25 590.74,54.81 590.82,54.42 590.9,54.02 590.99,53.63 591.08,53.24 591.18,52.84 591.29,52.45 591.4,52.05 591.52,51.66 591.1,51.2 588.58,50.4 588.75,49.92 588.92,49.45 589.1,48.97 589.29,48.5 589.48,48.03 589.68,47.56 589.89,47.09 590.11,46.62 590.33,46.16 590.55,45.7 591.02,45.36 592.4,45.53 593.75,45.77 594.19,45.53 594.4,45.17 594.61,44.81 594.84,44.45 595.06,44.1 595.29,43.75 595.53,43.4 595.77,43.06 596.01,42.72 595.89,42 594.36,39.65 594.67,39.26 594.99,38.86 595.31,38.48 595.64,38.1 595.97,37.73 596.3,37.36 596.64,37 596.98,36.64 597.33,36.29 597.68,35.95 598.16,35.88 599.1,36.89 599.99,37.95 600.41,37.96 600.71,37.71 601.01,37.47 601.31,37.23 601.62,37 601.93,36.77 602.24,36.55 602.55,36.34 602.86,36.14 603.06,35.31 602.88,31.96 603.26,31.74 603.65,31.52 604.04,31.31 604.43,31.11 604.82,30.92 605.21,30.74 605.6,30.57 605.99,30.41 606.39,30.26 606.78,30.11 607.16,30.32 607.45,31.93 607.68,33.57 607.98,33.84 608.29,33.76 608.61,33.68 608.93,33.62 609.25,33.56 609.56,33.52 609.88,33.47 610.19,33.44 610.5,33.42 610.97,32.68 612.17,29.09 612.55,29.09 612.92,29.1 613.28,29.11 613.65,29.14 614.01,29.18 614.37,29.23 614.72,29.28 615.08,29.35 615.42,29.43 615.77,29.51 615.96,29.96 615.53,31.81 615.05,33.65 615.16,34.1 615.43,34.21 615.69,34.33 615.95,34.45 616.2,34.58 616.45,34.72 616.7,34.87 616.94,35.02 617.18,35.18 617.82,34.71 620.13,31.69 620.4,31.92 620.67,32.15 620.93,32.39 621.19,32.64 621.44,32.89 621.68,33.16 621.92,33.43 622.15,33.71 622.37,34 622.59,34.3 622.55,34.88 621.5,36.54 620.41,38.16 620.32,38.7 620.47,38.97 620.61,39.25 620.75,39.53 620.89,39.82 621.02,40.12 621.14,40.42 621.25,40.72 621.36,41.03 622.02,40.92 624.91,39.18 625.02,39.58 625.13,39.98 625.22,40.38 625.31,40.8 625.39,41.21 625.47,41.63 625.53,42.06 625.59,42.49 625.64,42.92 625.68,43.36 625.42,43.94 623.99,45.04 622.55,46.07 622.26,46.57 622.26,46.94 622.26,47.32 622.25,47.7 622.23,48.08 622.21,48.46 622.18,48.85 622.14,49.23 622.1,49.62 622.62,49.9 625.43,49.83 625.36,50.31 625.27,50.79 625.18,51.27 625.08,51.75 624.98,52.23 624.86,52.71 624.74,53.19 624.61,53.68 624.47,54.16 624.33,54.64 623.91,55.09 622.42,55.36 620.96,55.57 620.55,55.91 620.4,56.3 620.25,56.69 620.09,57.08 619.93,57.46 619.76,57.85 619.58,58.23 619.4,58.61 619.21,58.99 619.49,59.59 621.57,61.21" fill="#fff" stroke-width="1.26"/>
<polyline points="604.16,72.46 601.55,72.75 599.07,72.5 596.78,71.71 594.76,70.41 593.05,68.64 591.7,66.43 590.76,63.86 590.24,60.98 590.16,57.89 590.53,54.67 591.33,51.4 592.54,48.17 594.12,45.07 596.04,42.2 598.24,39.62 600.67,37.4 603.24,35.62 605.9,34.31 608.58,33.51 611.19,33.25" fill="none" stroke-width="0.92"/>
<polygon points="603.35,61.57 602.87,61.25 602.45,60.85 602.09,60.36 601.8,59.79 601.59,59.16 601.46,58.48 601.41,57.75 601.45,57 601.57,56.23 601.77,55.45 602.05,54.68 602.4,53.94 602.82,53.23 603.3,52.57 603.83,51.96 604.4,51.43 605,50.97 605.63,50.6 606.26,50.33 606.9,50.15 607.53,50.07 608.14,50.09 608.71,50.21 609.25,50.43 709.45,103.43 709.93,103.75 710.35,104.15 710.71,104.64 711,105.21 711.21,105.84 711.34,106.52 711.39,107.25 711.35,108 711.23,108.77 711.03,109.55 710.75,110.32 710.4,111.06 709.98,111.77 709.5,112.43 708.97,113.04 708.4,113.57 707.8,114.03 707.17,114.4 706.54,114.67 705.9,114.85 705.27,114.93 704.66,114.91 704.09,114.79 703.55,114.57" fill="#fff" stroke-width="1.38"/>
<ellipse cx="706.5" cy="109" rx="4.41" ry="6.3" fill="#fff" stroke-width="1.38" transform="rotate(27.88 706.5 109)"/>
<ellipse cx="706.5" cy="109" rx="3" ry="4.5" fill="none" stroke-width="1.03" transform="rotate(28 706.5 109)"/>
<line x1="601.5" y1="79" x2="601.5" y2="101.5" stroke-width="1.15"/>
<text transform="translate(595 116.5) scale(0.88 1)" x="0" y="0" font-size="13.8" fill="#111" stroke="#111" stroke-width="0.45">12</text>
<polyline points="654,204 697,222" fill="none" stroke-width="1.26"/>
<polyline points="631,221 691,251" fill="none" stroke-width="1.26"/>
<polyline points="629.5,223 689.5,253" fill="none" stroke-width="0.92"/>
<polygon points="630.19,198.29 630.02,198.62 629.49,198.57 628.89,198.39 628.47,198.37 628.33,198.64 628.18,198.91 628.03,199.18 627.89,199.44 627.73,199.71 627.58,199.97 627.43,200.23 627.28,200.49 627.12,200.75 627.5,202.09 627.59,202.92 627.41,203.21 627.22,203.5 627.04,203.79 626.85,204.07 626.66,204.35 626.47,204.63 626.28,204.9 626.09,205.17 625.9,205.44 625.71,205.71 625.35,205.27 624.97,204.63 624.69,204.31 624.52,204.53 624.35,204.75 624.18,204.96 624.01,205.17 623.84,205.37 623.67,205.57 623.5,205.77 623.33,205.97 623.15,206.16 623.09,208.02 622.94,209.07 622.74,209.28 622.54,209.49 622.34,209.7 622.14,209.9 621.94,210.1 621.74,210.29 621.54,210.48 621.34,210.66 621.14,210.84 620.94,211.02 620.8,210.25 620.69,209.22 620.57,208.65 620.4,208.79 620.23,208.92 620.06,209.05 619.89,209.18 619.72,209.3 619.55,209.42 619.38,209.53 619.22,209.64 619.05,209.75 618.54,211.9 618.18,213.04 617.99,213.15 617.8,213.25 617.61,213.35 617.42,213.45 617.23,213.54 617.04,213.62 616.85,213.71 616.67,213.78 616.48,213.85 616.3,213.92 616.39,212.91 616.57,211.62 616.63,210.86 616.48,210.9 616.33,210.94 616.18,210.97 616.03,211 615.88,211.02 615.73,211.04 615.59,211.06 615.44,211.07 615.3,211.08 614.41,213.26 613.88,214.35 613.72,214.34 613.56,214.33 613.4,214.31 613.25,214.29 613.09,214.26 612.94,214.23 612.79,214.2 612.64,214.15 612.49,214.11 612.35,214.06 612.67,212.93 613.11,211.53 613.34,210.67 613.22,210.61 613.11,210.55 612.99,210.48 612.88,210.41 612.77,210.33 612.67,210.25 612.56,210.16 612.46,210.07 612.36,209.98 611.2,211.93 610.56,212.84 610.45,212.72 610.34,212.59 610.23,212.46 610.13,212.32 610.03,212.18 609.93,212.04 609.84,211.89 609.74,211.73 609.65,211.58 609.56,211.41 610.06,210.3 610.72,208.97 611.09,208.11 611.03,207.96 610.96,207.8 610.9,207.64 610.84,207.47 610.78,207.31 610.73,207.13 610.68,206.96 610.63,206.78 610.58,206.6 609.29,208.08 608.62,208.7 608.57,208.48 608.53,208.25 608.48,208.02 608.45,207.78 608.41,207.55 608.38,207.31 608.35,207.06 608.32,206.81 608.3,206.56 608.28,206.31 608.9,205.35 609.69,204.23 610.16,203.49 610.15,203.26 610.15,203.03 610.14,202.79 610.14,202.55 610.14,202.31 610.15,202.07 610.16,201.83 610.16,201.58 610.18,201.33 608.91,202.17 608.29,202.42 608.31,202.13 608.34,201.83 608.37,201.53 608.4,201.22 608.43,200.92 608.47,200.61 608.51,200.3 608.55,199.98 608.6,199.67 608.65,199.35 609.32,198.66 610.14,197.91 610.65,197.36 610.71,197.08 610.76,196.8 610.82,196.52 610.87,196.24 610.94,195.96 611,195.67 611.06,195.39 611.13,195.1 611.2,194.82 610.11,194.91 609.62,194.77 609.7,194.44 609.8,194.1 609.89,193.76 609.99,193.43 610.09,193.09 610.19,192.75 610.3,192.41 610.4,192.07 610.51,191.73 610.62,191.39 611.26,191.05 612.03,190.74 612.52,190.46 612.62,190.17 612.73,189.88 612.84,189.59 612.95,189.3 613.06,189 613.18,188.71 613.29,188.42 613.41,188.13 613.53,187.85 612.74,187.18 612.44,186.66 612.58,186.33 612.73,186 612.88,185.67 613.03,185.34 613.18,185.01 613.34,184.68 613.49,184.35 613.65,184.03 613.81,183.71 613.98,183.38 614.51,183.43 615.11,183.61 615.53,183.63 615.67,183.36 615.82,183.09 615.97,182.82 616.11,182.56 616.27,182.29 616.42,182.03 616.57,181.77 616.72,181.51 616.88,181.25 616.5,179.91 616.41,179.08 616.59,178.79 616.78,178.5 616.96,178.21 617.15,177.93 617.34,177.65 617.53,177.37 617.72,177.1 617.91,176.83 618.1,176.56 618.29,176.29 618.65,176.73 619.03,177.37 619.31,177.69 619.48,177.47 619.65,177.25 619.82,177.04 619.99,176.83 620.16,176.63 620.33,176.43 620.5,176.23 620.67,176.03 620.85,175.84 620.91,173.98 621.06,172.93 621.26,172.72 621.46,172.51 621.66,172.3 621.86,172.1 622.06,171.9 622.26,171.71 622.46,171.52 622.66,171.34 622.86,171.16 623.06,170.98 623.2,171.75 623.31,172.78 623.43,173.35 623.6,173.21 623.77,173.08 623.94,172.95 624.11,172.82 624.28,172.7 624.45,172.58 624.62,172.47 624.78,172.36 624.95,172.25 625.46,170.1 625.82,168.96 626.01,168.85 626.2,168.75 626.39,168.65 626.58,168.55 626.77,168.46 626.96,168.38 627.15,168.29 627.33,168.22 627.52,168.15 627.7,168.08 627.61,169.09 627.43,170.38 627.37,171.14 627.52,171.1 627.67,171.06 627.82,171.03 627.97,171 628.12,170.98 628.27,170.96 628.41,170.94 628.56,170.93 628.7,170.92 629.59,168.74 630.12,167.65 630.28,167.66 630.44,167.67 630.6,167.69 630.75,167.71 630.91,167.74 631.06,167.77 631.21,167.8 631.36,167.85 631.51,167.89 631.65,167.94 631.33,169.07 630.89,170.47 630.66,171.33 630.78,171.39 630.89,171.45 631.01,171.52 631.12,171.59 631.23,171.67 631.33,171.75 631.44,171.84 631.54,171.93 631.64,172.02 632.8,170.07 633.44,169.16 633.55,169.28 633.66,169.41 633.77,169.54 633.87,169.68 633.97,169.82 634.07,169.96 634.16,170.11 634.26,170.27 634.35,170.42 634.44,170.59 633.94,171.7 633.28,173.03 632.91,173.89 632.97,174.04 633.04,174.2 633.1,174.36 633.16,174.53 633.22,174.69 633.27,174.87 633.32,175.04 633.37,175.22 633.42,175.4 634.71,173.92 635.38,173.3 635.43,173.52 635.47,173.75 635.52,173.98 635.55,174.22 635.59,174.45 635.62,174.69 635.65,174.94 635.68,175.19 635.7,175.44 635.72,175.69 635.1,176.65 634.31,177.77 633.84,178.51 633.85,178.74 633.85,178.97 633.86,179.21 633.86,179.45 633.86,179.69 633.85,179.93 633.84,180.17 633.84,180.42 633.82,180.67 635.09,179.83 635.71,179.58 635.69,179.87 635.66,180.17 635.63,180.47 635.6,180.78 635.57,181.08 635.53,181.39 635.49,181.7 635.45,182.02 635.4,182.33 635.35,182.65 634.68,183.34 633.86,184.09 633.35,184.64 633.29,184.92 633.24,185.2 633.18,185.48 633.13,185.76 633.06,186.04 633,186.33 632.94,186.61 632.87,186.9 632.8,187.18 633.89,187.09 634.38,187.23 634.3,187.56 634.2,187.9 634.11,188.24 634.01,188.57 633.91,188.91 633.81,189.25 633.7,189.59 633.6,189.93 633.49,190.27 633.38,190.61 632.74,190.95 631.97,191.26 631.48,191.54 631.38,191.83 631.27,192.12 631.16,192.41 631.05,192.7 630.94,193 630.82,193.29 630.71,193.58 630.59,193.87 630.47,194.15 631.26,194.82 631.56,195.34 631.42,195.67 631.27,196 631.12,196.33 630.97,196.66 630.82,196.99 630.66,197.32 630.51,197.65 630.35,197.97 630.19,198.29" fill="#fff" stroke-width="1.26"/>
<line x1="616.48" y1="213.85" x2="623.48" y2="216.85" stroke-width="0.92"/>
<line x1="614.58" y1="214.32" x2="621.58" y2="217.32" stroke-width="0.92"/>
<line x1="612.49" y1="214.11" x2="619.49" y2="217.11" stroke-width="0.92"/>
<line x1="611.05" y1="213.3" x2="618.05" y2="216.3" stroke-width="0.92"/>
<line x1="609.65" y1="211.58" x2="616.65" y2="214.58" stroke-width="0.92"/>
<line x1="608.84" y1="209.6" x2="615.84" y2="212.6" stroke-width="0.92"/>
<line x1="608.3" y1="206.56" x2="615.3" y2="209.56" stroke-width="0.92"/>
<line x1="608.23" y1="203.65" x2="615.23" y2="206.65" stroke-width="0.92"/>
<line x1="608.6" y1="199.67" x2="615.6" y2="202.67" stroke-width="0.92"/>
<line x1="609.27" y1="196.17" x2="616.27" y2="199.17" stroke-width="0.92"/>
<line x1="610.51" y1="191.73" x2="617.51" y2="194.73" stroke-width="0.92"/>
<line x1="611.85" y1="188.07" x2="618.85" y2="191.07" stroke-width="0.92"/>
<line x1="613.81" y1="183.71" x2="620.81" y2="186.71" stroke-width="0.92"/>
<line x1="615.65" y1="180.33" x2="622.65" y2="183.33" stroke-width="0.92"/>
<line x1="618.1" y1="176.56" x2="625.1" y2="179.56" stroke-width="0.92"/>
<line x1="620.22" y1="173.87" x2="627.22" y2="176.87" stroke-width="0.92"/>
<line x1="622.86" y1="171.16" x2="629.86" y2="174.16" stroke-width="0.92"/>
<line x1="625" y1="169.48" x2="632" y2="172.48" stroke-width="0.92"/>
<line x1="627.52" y1="168.15" x2="634.52" y2="171.15" stroke-width="0.92"/>
<line x1="629.42" y1="167.68" x2="636.42" y2="170.68" stroke-width="0.92"/>
<line x1="631.51" y1="167.89" x2="638.51" y2="170.89" stroke-width="0.92"/>
<line x1="632.95" y1="168.7" x2="639.95" y2="171.7" stroke-width="0.92"/>
<line x1="634.35" y1="170.42" x2="641.35" y2="173.42" stroke-width="0.92"/>
<line x1="635.16" y1="172.4" x2="642.16" y2="175.4" stroke-width="0.92"/>
<polygon points="637.19,201.29 637.02,201.62 636.49,201.57 635.89,201.39 635.47,201.37 635.33,201.64 635.18,201.91 635.03,202.18 634.89,202.44 634.73,202.71 634.58,202.97 634.43,203.23 634.28,203.49 634.12,203.75 634.5,205.09 634.59,205.92 634.41,206.21 634.22,206.5 634.04,206.79 633.85,207.07 633.66,207.35 633.47,207.63 633.28,207.9 633.09,208.17 632.9,208.44 632.71,208.71 632.35,208.27 631.97,207.63 631.69,207.31 631.52,207.53 631.35,207.75 631.18,207.96 631.01,208.17 630.84,208.37 630.67,208.57 630.5,208.77 630.33,208.97 630.15,209.16 630.09,211.02 629.94,212.07 629.74,212.28 629.54,212.49 629.34,212.7 629.14,212.9 628.94,213.1 628.74,213.29 628.54,213.48 628.34,213.66 628.14,213.84 627.94,214.02 627.8,213.25 627.69,212.22 627.57,211.65 627.4,211.79 627.23,211.92 627.06,212.05 626.89,212.18 626.72,212.3 626.55,212.42 626.38,212.53 626.22,212.64 626.05,212.75 625.54,214.9 625.18,216.04 624.99,216.15 624.8,216.25 624.61,216.35 624.42,216.45 624.23,216.54 624.04,216.62 623.85,216.71 623.67,216.78 623.48,216.85 623.3,216.92 623.39,215.91 623.57,214.62 623.63,213.86 623.48,213.9 623.33,213.94 623.18,213.97 623.03,214 622.88,214.02 622.73,214.04 622.59,214.06 622.44,214.07 622.3,214.08 621.41,216.26 620.88,217.35 620.72,217.34 620.56,217.33 620.4,217.31 620.25,217.29 620.09,217.26 619.94,217.23 619.79,217.2 619.64,217.15 619.49,217.11 619.35,217.06 619.67,215.93 620.11,214.53 620.34,213.67 620.22,213.61 620.11,213.55 619.99,213.48 619.88,213.41 619.77,213.33 619.67,213.25 619.56,213.16 619.46,213.07 619.36,212.98 618.2,214.93 617.56,215.84 617.45,215.72 617.34,215.59 617.23,215.46 617.13,215.32 617.03,215.18 616.93,215.04 616.84,214.89 616.74,214.73 616.65,214.58 616.56,214.41 617.06,213.3 617.72,211.97 618.09,211.11 618.03,210.96 617.96,210.8 617.9,210.64 617.84,210.47 617.78,210.31 617.73,210.13 617.68,209.96 617.63,209.78 617.58,209.6 616.29,211.08 615.62,211.7 615.57,211.48 615.53,211.25 615.48,211.02 615.45,210.78 615.41,210.55 615.38,210.31 615.35,210.06 615.32,209.81 615.3,209.56 615.28,209.31 615.9,208.35 616.69,207.23 617.16,206.49 617.15,206.26 617.15,206.03 617.14,205.79 617.14,205.55 617.14,205.31 617.15,205.07 617.16,204.83 617.16,204.58 617.18,204.33 615.91,205.17 615.29,205.42 615.31,205.13 615.34,204.83 615.37,204.53 615.4,204.22 615.43,203.92 615.47,203.61 615.51,203.3 615.55,202.98 615.6,202.67 615.65,202.35 616.32,201.66 617.14,200.91 617.65,200.36 617.71,200.08 617.76,199.8 617.82,199.52 617.87,199.24 617.94,198.96 618,198.67 618.06,198.39 618.13,198.1 618.2,197.82 617.11,197.91 616.62,197.77 616.7,197.44 616.8,197.1 616.89,196.76 616.99,196.43 617.09,196.09 617.19,195.75 617.3,195.41 617.4,195.07 617.51,194.73 617.62,194.39 618.26,194.05 619.03,193.74 619.52,193.46 619.62,193.17 619.73,192.88 619.84,192.59 619.95,192.3 620.06,192 620.18,191.71 620.29,191.42 620.41,191.13 620.53,190.85 619.74,190.18 619.44,189.66 619.58,189.33 619.73,189 619.88,188.67 620.03,188.34 620.18,188.01 620.34,187.68 620.49,187.35 620.65,187.03 620.81,186.71 620.98,186.38 621.51,186.43 622.11,186.61 622.53,186.63 622.67,186.36 622.82,186.09 622.97,185.82 623.11,185.56 623.27,185.29 623.42,185.03 623.57,184.77 623.72,184.51 623.88,184.25 623.5,182.91 623.41,182.08 623.59,181.79 623.78,181.5 623.96,181.21 624.15,180.93 624.34,180.65 624.53,180.37 624.72,180.1 624.91,179.83 625.1,179.56 625.29,179.29 625.65,179.73 626.03,180.37 626.31,180.69 626.48,180.47 626.65,180.25 626.82,180.04 626.99,179.83 627.16,179.63 627.33,179.43 627.5,179.23 627.67,179.03 627.85,178.84 627.91,176.98 628.06,175.93 628.26,175.72 628.46,175.51 628.66,175.3 628.86,175.1 629.06,174.9 629.26,174.71 629.46,174.52 629.66,174.34 629.86,174.16 630.06,173.98 630.2,174.75 630.31,175.78 630.43,176.35 630.6,176.21 630.77,176.08 630.94,175.95 631.11,175.82 631.28,175.7 631.45,175.58 631.62,175.47 631.78,175.36 631.95,175.25 632.46,173.1 632.82,171.96 633.01,171.85 633.2,171.75 633.39,171.65 633.58,171.55 633.77,171.46 633.96,171.38 634.15,171.29 634.33,171.22 634.52,171.15 634.7,171.08 634.61,172.09 634.43,173.38 634.37,174.14 634.52,174.1 634.67,174.06 634.82,174.03 634.97,174 635.12,173.98 635.27,173.96 635.41,173.94 635.56,173.93 635.7,173.92 636.59,171.74 637.12,170.65 637.28,170.66 637.44,170.67 637.6,170.69 637.75,170.71 637.91,170.74 638.06,170.77 638.21,170.8 638.36,170.85 638.51,170.89 638.65,170.94 638.33,172.07 637.89,173.47 637.66,174.33 637.78,174.39 637.89,174.45 638.01,174.52 638.12,174.59 638.23,174.67 638.33,174.75 638.44,174.84 638.54,174.93 638.64,175.02 639.8,173.07 640.44,172.16 640.55,172.28 640.66,172.41 640.77,172.54 640.87,172.68 640.97,172.82 641.07,172.96 641.16,173.11 641.26,173.27 641.35,173.42 641.44,173.59 640.94,174.7 640.28,176.03 639.91,176.89 639.97,177.04 640.04,177.2 640.1,177.36 640.16,177.53 640.22,177.69 640.27,177.87 640.32,178.04 640.37,178.22 640.42,178.4 641.71,176.92 642.38,176.3 642.43,176.52 642.47,176.75 642.52,176.98 642.55,177.22 642.59,177.45 642.62,177.69 642.65,177.94 642.68,178.19 642.7,178.44 642.72,178.69 642.1,179.65 641.31,180.77 640.84,181.51 640.85,181.74 640.85,181.97 640.86,182.21 640.86,182.45 640.86,182.69 640.85,182.93 640.84,183.17 640.84,183.42 640.82,183.67 642.09,182.83 642.71,182.58 642.69,182.87 642.66,183.17 642.63,183.47 642.6,183.78 642.57,184.08 642.53,184.39 642.49,184.7 642.45,185.02 642.4,185.33 642.35,185.65 641.68,186.34 640.86,187.09 640.35,187.64 640.29,187.92 640.24,188.2 640.18,188.48 640.13,188.76 640.06,189.04 640,189.33 639.94,189.61 639.87,189.9 639.8,190.18 640.89,190.09 641.38,190.23 641.3,190.56 641.2,190.9 641.11,191.24 641.01,191.57 640.91,191.91 640.81,192.25 640.7,192.59 640.6,192.93 640.49,193.27 640.38,193.61 639.74,193.95 638.97,194.26 638.48,194.54 638.38,194.83 638.27,195.12 638.16,195.41 638.05,195.7 637.94,196 637.82,196.29 637.71,196.58 637.59,196.87 637.47,197.15 638.26,197.82 638.56,198.34 638.42,198.67 638.27,199 638.12,199.33 637.97,199.66 637.82,199.99 637.66,200.32 637.51,200.65 637.35,200.97 637.19,201.29" fill="#fff" stroke-width="1.26"/>
<path d="M625,212 Q622,185 632,173 Q644,163 656,182 Q658,188 655,193 Q652,196 651,203 Q648,209 652,211 Q651,217 646,219 L631,221 Q626,218 625,212 Z" fill="#fff" stroke-width="1.2"/>
<path d="M629.0,218.0 Q626.0,190.0 636.0,176.0 Q645.0,169 653.0,183.0" fill="none" stroke-width="0.9"/>
<path d="M630.8,217.7 Q628.1,190.9 637.2,178.7 Q644.7,172 651.2,184.5" fill="none" stroke-width="0.9"/>
<path d="M632.6,217.4 Q630.2,191.8 638.4,181.4 Q644.4,175 649.4,186.0" fill="none" stroke-width="0.9"/>
<path d="M634.4,217.1 Q632.3,192.7 639.6,184.1 Q644.1,178 647.6,187.5" fill="none" stroke-width="0.9"/>
<path d="M688,220 Q698,216 706,220 Q716,224 715,238 Q713,250 703,253 L691,251 Q686,244 688,236 Q690,228 688,220 Z" fill="#fff" stroke-width="1.2"/>
<polyline points="694,221 697,230 694,238 699,246 696,252" fill="none" stroke-width="0.92"/>
<polygon points="704.24,238.43 703.68,238.13 703.17,237.72 702.73,237.21 702.36,236.61 702.07,235.93 701.87,235.18 701.75,234.39 701.72,233.55 701.78,232.68 701.94,231.8 702.17,230.93 702.5,230.07 702.89,229.25 703.36,228.47 703.89,227.75 704.48,227.11 705.11,226.55 705.77,226.09 706.45,225.72 707.14,225.46 707.82,225.32 708.5,225.29 709.15,225.37 709.76,225.57 716.76,228.57 717.32,228.87 717.83,229.28 718.27,229.79 718.64,230.39 718.93,231.07 719.13,231.82 719.25,232.61 719.28,233.45 719.22,234.32 719.06,235.2 718.83,236.07 718.5,236.93 718.11,237.75 717.64,238.53 717.11,239.25 716.52,239.89 715.89,240.45 715.23,240.91 714.55,241.28 713.86,241.54 713.18,241.68 712.5,241.71 711.85,241.63 711.24,241.43" fill="#fff" stroke-width="1.26"/>
<ellipse cx="714" cy="235" rx="4.9" ry="7" fill="#fff" stroke-width="1.26" transform="rotate(23.2 714 235)"/>
<ellipse cx="714" cy="235" rx="3.2" ry="4.6" fill="none" stroke-width="0.92" transform="rotate(22 714 235)"/>
<line x1="636.75" y1="173.5" x2="682.5" y2="174" stroke-width="1.15"/>
<text transform="translate(683.5 178.75) scale(0.88 1)" x="0" y="0" font-size="13.8" fill="#111" stroke="#111" stroke-width="0.45">11</text>
<path d="M543.5,184.8 L556,190.8 Q558.8,193.2 555,195 Q548,195 543.8,190 Q541.8,186.5 543.5,184.8 Z" fill="#fff" stroke-width="1.4"/>
<polyline points="544,187.5 556,192.6" fill="none" stroke-width="0.92"/>
<line x1="549" y1="167" x2="549" y2="183" stroke-width="1.15"/>
<text transform="translate(542.8 164.5) scale(0.88 1)" x="0" y="0" font-size="13.8" fill="#111" stroke="#111" stroke-width="0.45">20</text>
<polygon points="735.99,268.2 734.61,267.39 733.38,266.33 732.31,265.04 731.43,263.55 730.75,261.86 730.29,260.03 730.05,258.07 730.03,256.02 730.23,253.91 730.66,251.79 731.3,249.68 732.15,247.63 733.19,245.66 734.39,243.82 735.75,242.13 737.24,240.62 738.82,239.32 740.48,238.26 742.19,237.44 743.92,236.88 745.63,236.6 747.3,236.59 748.91,236.86 750.41,237.4 756.71,240.35 758.09,241.16 759.32,242.22 760.39,243.51 761.27,245 761.95,246.69 762.41,248.52 762.65,250.48 762.67,252.53 762.47,254.64 762.04,256.76 761.4,258.87 760.55,260.92 759.51,262.89 758.31,264.73 756.95,266.42 755.46,267.93 753.88,269.23 752.22,270.29 750.51,271.11 748.78,271.67 747.07,271.95 745.4,271.96 743.79,271.69 742.29,271.15" fill="#fff" stroke-width="1.49"/>
<ellipse cx="749.5" cy="255.75" rx="12.2" ry="17" fill="#fff" stroke-width="1.49" transform="rotate(25.09 749.5 255.75)"/>
<ellipse cx="749.5" cy="255.75" rx="10.5" ry="15" fill="none" stroke-width="1.03" transform="rotate(25 749.5 255.75)"/>
<ellipse cx="756" cy="260.93" rx="1.8" ry="1.9" fill="none" stroke-width="0.92"/>
<ellipse cx="749.89" cy="266.05" rx="1.8" ry="1.9" fill="none" stroke-width="0.92"/>
<ellipse cx="743.55" cy="265.14" rx="1.8" ry="1.9" fill="none" stroke-width="0.92"/>
<ellipse cx="740.7" cy="258.73" rx="1.8" ry="1.9" fill="none" stroke-width="0.92"/>
<ellipse cx="743" cy="250.57" rx="1.8" ry="1.9" fill="none" stroke-width="0.92"/>
<ellipse cx="749.11" cy="245.45" rx="1.8" ry="1.9" fill="none" stroke-width="0.92"/>
<ellipse cx="755.45" cy="246.36" rx="1.8" ry="1.9" fill="none" stroke-width="0.92"/>
<ellipse cx="758.3" cy="252.77" rx="1.8" ry="1.9" fill="none" stroke-width="0.92"/>
<ellipse cx="749.5" cy="255.75" rx="5.5" ry="7" fill="#fff" stroke-width="1.26" transform="rotate(25 749.5 255.75)"/>
<ellipse cx="749.5" cy="255.75" rx="3.5" ry="5" fill="none" stroke-width="1.03" transform="rotate(25 749.5 255.75)"/>
<line x1="742.6" y1="272" x2="742.6" y2="308" stroke-width="1.15"/>
<text transform="translate(735.8 319) scale(0.88 1)" x="0" y="0" font-size="13.8" fill="#111" stroke="#111" stroke-width="0.45">21</text>
<text x="620" y="395.5" font-size="8.6" fill="#222" stroke="#222" stroke-width="0.35" textLength="72.5" lengthAdjust="spacingAndGlyphs">GY83-E0800B</text>
<polygon points="11.25,390 14.4,378 17,381 30.6,371.9 36.25,380.6 22,389 23.1,393" fill="#111" stroke-width="1.15"/>
<text x="37" y="379.5" font-size="13.2" font-weight="bold" fill="#111" stroke="#111" stroke-width="0.7" letter-spacing="0.6" transform="rotate(-30 37 379.5)">FR.</text>
<path d="M610.3,143.8 L509.1,321.2 L531.1,321.2 L610.3,182.3 L620.4,200.1 L578.0,282.0 L684.0,282.0 L642.4,200.1 L652.5,182.3 L720.0,300.8 L558.0,300.8 L547.5,321.2 L753.7,321.2 L652.5,143.8 L631.4,180.8Z M631.4,229.0 L612.0,262.0 L650.5,262.0Z" fill="#e8302a" fill-opacity="0.45" fill-rule="evenodd" stroke="none"/>
<g opacity="0.6"><text x="472.5" y="348" transform="skewX(-6) translate(36.6 0)" font-size="32.5" font-weight="bold" textLength="107.5" lengthAdjust="spacingAndGlyphs" fill="#f0a030" stroke="#f0a030" stroke-width="2.2">AUTO</text></g>
<g opacity="0.45"><text x="582" y="348" transform="skewX(-6) translate(36.6 0)" font-size="32.5" font-weight="bold" textLength="122" lengthAdjust="spacingAndGlyphs" fill="#e8302a" stroke="#e8302a" stroke-width="2.2">MOTO</text></g>
<g opacity="0.75"><text x="708" y="348" transform="skewX(-6) translate(36.6 0)" font-size="32.5" font-weight="bold" textLength="82" lengthAdjust="spacingAndGlyphs" fill="#6e6e6e" stroke="#6e6e6e" stroke-width="2.2">HUB</text></g>
</g>
</svg></body></html>
